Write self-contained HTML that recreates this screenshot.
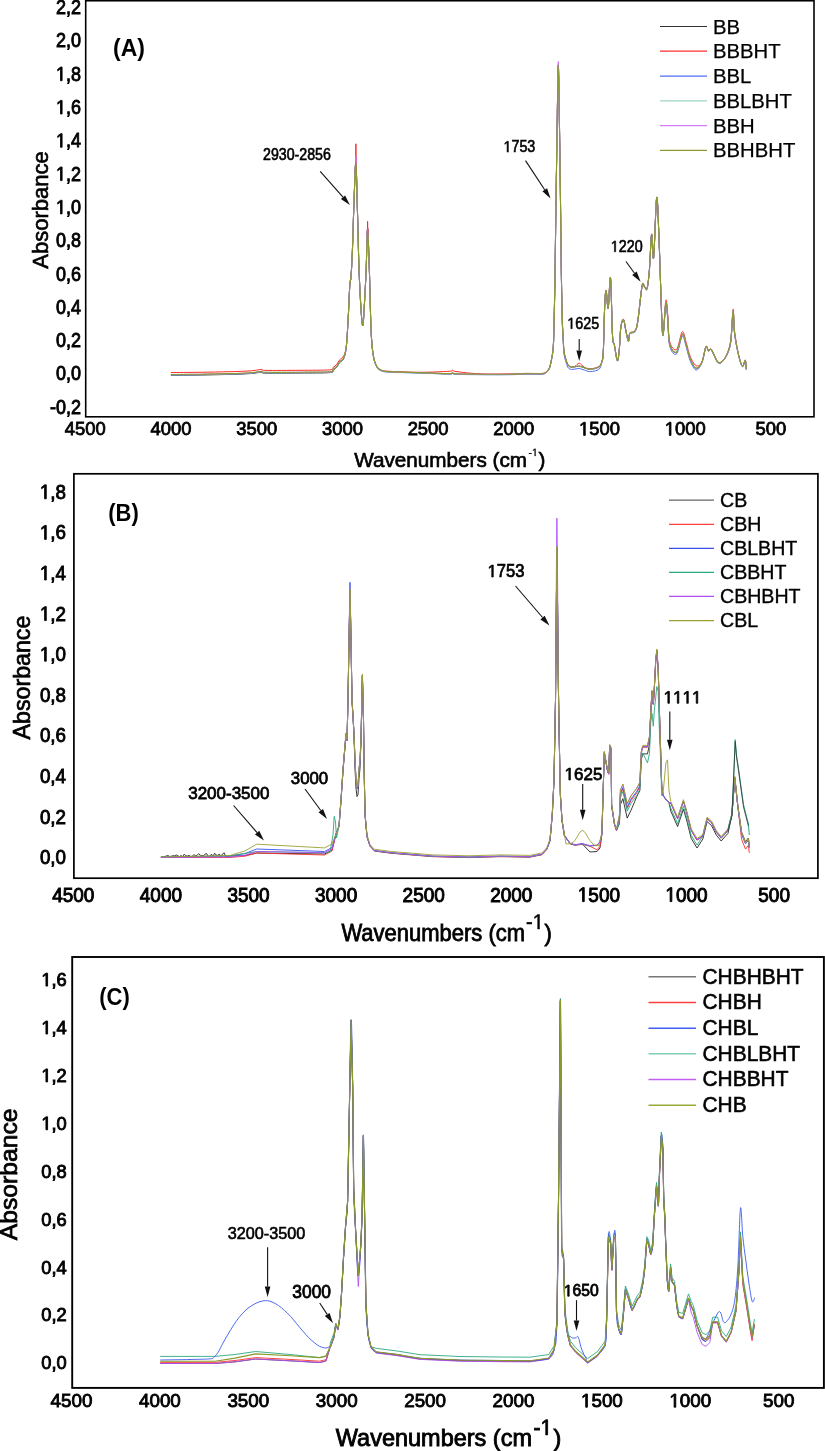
<!DOCTYPE html>
<html><head><meta charset="utf-8"><style>
html,body{margin:0;padding:0;background:#fff;}
svg{display:block;font-family:"Liberation Sans", sans-serif;}
text{fill:#000;}
svg{will-change:transform;}
</style></head><body>
<svg width="825" height="1451" viewBox="0 0 825 1451">
<rect width="825" height="1451" fill="#fff"/>
<rect x="85.7" y="0.75" width="728.3" height="416.05" fill="none" stroke="#000" stroke-width="1.6"/>
<g transform="translate(81.0,413.7) scale(1,1.1)"><text x="0" y="0" font-size="18" text-anchor="end" font-weight="normal"  stroke="#000" stroke-width="0.8">-0,2</text></g>
<g transform="translate(81.0,380.4) scale(1,1.1)"><text x="0" y="0" font-size="18" text-anchor="end" font-weight="normal"  stroke="#000" stroke-width="0.8">0,0</text></g>
<g transform="translate(81.0,347.1) scale(1,1.1)"><text x="0" y="0" font-size="18" text-anchor="end" font-weight="normal"  stroke="#000" stroke-width="0.8">0,2</text></g>
<g transform="translate(81.0,313.8) scale(1,1.1)"><text x="0" y="0" font-size="18" text-anchor="end" font-weight="normal"  stroke="#000" stroke-width="0.8">0,4</text></g>
<g transform="translate(81.0,280.5) scale(1,1.1)"><text x="0" y="0" font-size="18" text-anchor="end" font-weight="normal"  stroke="#000" stroke-width="0.8">0,6</text></g>
<g transform="translate(81.0,247.2) scale(1,1.1)"><text x="0" y="0" font-size="18" text-anchor="end" font-weight="normal"  stroke="#000" stroke-width="0.8">0,8</text></g>
<g transform="translate(55.98,213.9) scale(1,1.1)"><path transform="translate(0.00,0) scale(0.00879,-0.00879)" d="M515,0 L515,1237 L197,1010 L197,1180 L530,1409 L696,1409 L696,0 Z" fill="#000" stroke="#000" stroke-width="91.0" stroke-linejoin="miter"/><text x="10.01" y="0" font-size="18"  stroke="#000" stroke-width="0.8" style="white-space:pre">,0</text></g>
<g transform="translate(55.98,180.6) scale(1,1.1)"><path transform="translate(0.00,0) scale(0.00879,-0.00879)" d="M515,0 L515,1237 L197,1010 L197,1180 L530,1409 L696,1409 L696,0 Z" fill="#000" stroke="#000" stroke-width="91.0" stroke-linejoin="miter"/><text x="10.01" y="0" font-size="18"  stroke="#000" stroke-width="0.8" style="white-space:pre">,2</text></g>
<g transform="translate(55.98,147.3) scale(1,1.1)"><path transform="translate(0.00,0) scale(0.00879,-0.00879)" d="M515,0 L515,1237 L197,1010 L197,1180 L530,1409 L696,1409 L696,0 Z" fill="#000" stroke="#000" stroke-width="91.0" stroke-linejoin="miter"/><text x="10.01" y="0" font-size="18"  stroke="#000" stroke-width="0.8" style="white-space:pre">,4</text></g>
<g transform="translate(55.98,114.0) scale(1,1.1)"><path transform="translate(0.00,0) scale(0.00879,-0.00879)" d="M515,0 L515,1237 L197,1010 L197,1180 L530,1409 L696,1409 L696,0 Z" fill="#000" stroke="#000" stroke-width="91.0" stroke-linejoin="miter"/><text x="10.01" y="0" font-size="18"  stroke="#000" stroke-width="0.8" style="white-space:pre">,6</text></g>
<g transform="translate(55.98,80.7) scale(1,1.1)"><path transform="translate(0.00,0) scale(0.00879,-0.00879)" d="M515,0 L515,1237 L197,1010 L197,1180 L530,1409 L696,1409 L696,0 Z" fill="#000" stroke="#000" stroke-width="91.0" stroke-linejoin="miter"/><text x="10.01" y="0" font-size="18"  stroke="#000" stroke-width="0.8" style="white-space:pre">,8</text></g>
<g transform="translate(81.0,47.4) scale(1,1.1)"><text x="0" y="0" font-size="18" text-anchor="end" font-weight="normal"  stroke="#000" stroke-width="0.8">2,0</text></g>
<g transform="translate(81.0,14.1) scale(1,1.1)"><text x="0" y="0" font-size="18" text-anchor="end" font-weight="normal"  stroke="#000" stroke-width="0.8">2,2</text></g>
<g transform="translate(85.3,435.4) scale(1,1.04)"><text x="0" y="0" font-size="18.4" text-anchor="middle" font-weight="normal"  stroke="#000" stroke-width="0.8">4500</text></g>
<g transform="translate(171.0,435.4) scale(1,1.04)"><text x="0" y="0" font-size="18.4" text-anchor="middle" font-weight="normal"  stroke="#000" stroke-width="0.8">4000</text></g>
<g transform="translate(256.7,435.4) scale(1,1.04)"><text x="0" y="0" font-size="18.4" text-anchor="middle" font-weight="normal"  stroke="#000" stroke-width="0.8">3500</text></g>
<g transform="translate(342.4,435.4) scale(1,1.04)"><text x="0" y="0" font-size="18.4" text-anchor="middle" font-weight="normal"  stroke="#000" stroke-width="0.8">3000</text></g>
<g transform="translate(428.1,435.4) scale(1,1.04)"><text x="0" y="0" font-size="18.4" text-anchor="middle" font-weight="normal"  stroke="#000" stroke-width="0.8">2500</text></g>
<g transform="translate(513.8,435.4) scale(1,1.04)"><text x="0" y="0" font-size="18.4" text-anchor="middle" font-weight="normal"  stroke="#000" stroke-width="0.8">2000</text></g>
<g transform="translate(579.03,435.4) scale(1,1.04)"><path transform="translate(0.00,0) scale(0.00898,-0.00898)" d="M515,0 L515,1237 L197,1010 L197,1180 L530,1409 L696,1409 L696,0 Z" fill="#000" stroke="#000" stroke-width="89.0" stroke-linejoin="miter"/><text x="10.23" y="0" font-size="18.4"  stroke="#000" stroke-width="0.8" style="white-space:pre">500</text></g>
<g transform="translate(664.73,435.4) scale(1,1.04)"><path transform="translate(0.00,0) scale(0.00898,-0.00898)" d="M515,0 L515,1237 L197,1010 L197,1180 L530,1409 L696,1409 L696,0 Z" fill="#000" stroke="#000" stroke-width="89.0" stroke-linejoin="miter"/><text x="10.23" y="0" font-size="18.4"  stroke="#000" stroke-width="0.8" style="white-space:pre">000</text></g>
<g transform="translate(770.9,435.4) scale(1,1.04)"><text x="0" y="0" font-size="18.4" text-anchor="middle" font-weight="normal"  stroke="#000" stroke-width="0.8">500</text></g>
<g transform="translate(48,268.7) rotate(-90)"><text x="0" y="0" font-size="22" stroke="#000" stroke-width="0.65">Absorbance</text></g>
<text x="354.2" y="466.7" font-size="20.7" text-anchor="start" font-weight="normal"  stroke="#000" stroke-width="0.65">Wavenumbers (cm</text>
<g transform="translate(528.50,456.0) scale(1,1.0)"><text x="0.00" y="0" font-size="10.5"  stroke="#000" stroke-width="0.3" style="white-space:pre">-</text><path transform="translate(3.50,0) scale(0.00513,-0.00513)" d="M515,0 L515,1237 L197,1010 L197,1180 L530,1409 L696,1409 L696,0 Z" fill="#000" stroke="#000" stroke-width="58.5" stroke-linejoin="miter"/></g>
<text x="538.5" y="466.7" font-size="20.7" text-anchor="start" font-weight="normal"  stroke="#000" stroke-width="0.65">)</text>
<g transform="translate(113.0,55.8) scale(1,1.05)"><text x="0" y="0" font-size="23" text-anchor="start" font-weight="bold" >(A)</text></g>
<line x1="660" y1="26.5" x2="707" y2="26.5" stroke="#333333" stroke-width="1.2"/>
<text x="713.0" y="33.5" font-size="20.3" text-anchor="start" font-weight="normal"  stroke="#000" stroke-width="0.25">BB</text>
<line x1="660" y1="51.1" x2="707" y2="51.1" stroke="#ff3030" stroke-width="1.2"/>
<text x="713.0" y="58.1" font-size="20.3" text-anchor="start" font-weight="normal"  stroke="#000" stroke-width="0.25">BBBHT</text>
<line x1="660" y1="76.2" x2="707" y2="76.2" stroke="#4d6ef5" stroke-width="1.2"/>
<text x="713.0" y="83.2" font-size="20.3" text-anchor="start" font-weight="normal"  stroke="#000" stroke-width="0.25">BBL</text>
<line x1="660" y1="100.9" x2="707" y2="100.9" stroke="#9fd6c6" stroke-width="1.2"/>
<text x="713.0" y="107.9" font-size="20.3" text-anchor="start" font-weight="normal"  stroke="#000" stroke-width="0.25">BBLBHT</text>
<line x1="660" y1="125.6" x2="707" y2="125.6" stroke="#d27cf7" stroke-width="1.2"/>
<text x="713.0" y="132.6" font-size="20.3" text-anchor="start" font-weight="normal"  stroke="#000" stroke-width="0.25">BBH</text>
<line x1="660" y1="150.3" x2="707" y2="150.3" stroke="#8e9a2e" stroke-width="1.2"/>
<text x="713.0" y="157.3" font-size="20.3" text-anchor="start" font-weight="normal"  stroke="#000" stroke-width="0.25">BBHBHT</text>
<g transform="translate(263.0,159.8) scale(1,1.1)"><text x="0" y="0" font-size="14.2" text-anchor="start" font-weight="normal"  stroke="#000" stroke-width="0.55">2930-2856</text></g>
<line x1="320.2" y1="171.3" x2="343.0" y2="197.2" stroke="#111" stroke-width="1.1"/>
<polygon points="349.9,205.1 340.9,199.1 345.1,195.4" fill="#111"/>
<g transform="translate(503.50,152.1) scale(1,1.1)"><path transform="translate(0.00,0) scale(0.00698,-0.00698)" d="M515,0 L515,1237 L197,1010 L197,1180 L530,1409 L696,1409 L696,0 Z" fill="#000" stroke="#000" stroke-width="78.8" stroke-linejoin="miter"/><text x="7.95" y="0" font-size="14.3"  stroke="#000" stroke-width="0.55" style="white-space:pre">753</text></g>
<line x1="525.5" y1="160.6" x2="544.7" y2="189.7" stroke="#111" stroke-width="1.1"/>
<polygon points="550.5,198.5 542.4,191.3 547.1,188.2" fill="#111"/>
<g transform="translate(567.30,328.7) scale(1,1.1)"><path transform="translate(0.00,0) scale(0.00698,-0.00698)" d="M515,0 L515,1237 L197,1010 L197,1180 L530,1409 L696,1409 L696,0 Z" fill="#000" stroke="#000" stroke-width="78.8" stroke-linejoin="miter"/><text x="7.95" y="0" font-size="14.3"  stroke="#000" stroke-width="0.55" style="white-space:pre">625</text></g>
<line x1="579.2" y1="339.0" x2="579.2" y2="350.6" stroke="#111" stroke-width="1.1"/>
<polygon points="579.2,361.1 576.4,350.6 582.0,350.6" fill="#111"/>
<g transform="translate(610.80,251.8) scale(1,1.1)"><path transform="translate(0.00,0) scale(0.00698,-0.00698)" d="M515,0 L515,1237 L197,1010 L197,1180 L530,1409 L696,1409 L696,0 Z" fill="#000" stroke="#000" stroke-width="78.8" stroke-linejoin="miter"/><text x="7.95" y="0" font-size="14.3"  stroke="#000" stroke-width="0.55" style="white-space:pre">220</text></g>
<line x1="626.0" y1="261.5" x2="634.5" y2="273.3" stroke="#111" stroke-width="1.1"/>
<polygon points="640.6,281.8 632.2,274.9 636.7,271.6" fill="#111"/>
<path d="M170.9,375.3 C175.8,375.2 190.2,375.1 200.0,375.0 C209.8,374.9 221.7,374.6 230.0,374.4 C238.3,374.2 245.3,373.9 250.0,373.6 C254.7,373.3 256.0,372.9 258.0,372.6 C260.0,372.4 260.5,372.0 261.8,372.1 C263.1,372.2 259.6,373.0 266.0,373.1 C272.4,373.2 289.4,373.1 300.0,373.0 C310.6,372.9 324.2,373.1 329.7,372.6 C335.2,372.2 331.8,371.2 333.0,370.3 C334.2,369.4 335.8,368.2 336.9,367.0 C338.0,365.8 338.2,364.2 339.4,362.8 C340.5,361.4 342.6,361.3 343.8,358.4 C345.0,355.6 345.7,352.1 346.4,345.7 C347.1,339.3 347.5,329.9 348.1,319.9 C348.7,309.8 349.3,292.6 349.8,285.4 C350.3,278.2 350.6,282.6 351.0,276.8 C351.4,271.1 351.9,263.8 352.4,250.9 C352.9,238.0 353.5,213.8 354.1,199.2 C354.7,184.5 355.3,160.1 355.9,163.0 C356.5,165.9 357.0,197.4 357.6,216.4 C358.2,235.4 358.5,258.7 359.3,276.8 C360.1,294.9 361.5,320.7 362.4,325.0 C363.3,329.3 363.9,312.1 364.5,302.6 C365.1,293.1 365.7,280.4 366.2,268.1 C366.7,255.7 367.1,228.5 367.6,228.5 C368.1,228.5 368.7,251.4 369.3,268.1 C369.9,284.8 370.4,314.1 371.0,328.5 C371.6,342.9 372.2,348.0 373.1,354.3 C374.0,360.6 375.2,363.7 376.6,366.4 C378.0,369.1 379.5,369.8 381.7,370.7 C383.9,371.6 383.6,371.4 390.0,371.8 C396.4,372.2 410.2,372.5 420.0,372.8 C429.8,373.1 443.6,373.8 449.0,373.8 C454.4,373.8 451.2,372.8 452.4,372.8 C453.6,372.8 451.4,373.7 456.0,374.0 C460.6,374.3 471.0,374.3 480.0,374.4 C489.0,374.5 502.5,374.5 510.0,374.4 C517.5,374.3 521.7,374.0 525.0,373.9 C528.3,373.8 527.1,373.9 530.0,373.9 C532.9,373.9 539.5,374.2 542.2,373.9 C545.0,373.6 545.3,373.2 546.5,372.2 C547.7,371.2 548.6,370.0 549.5,367.8 C550.4,365.6 551.0,362.2 551.6,359.1 C552.2,355.9 552.7,353.7 553.1,348.9 C553.5,344.1 553.6,342.3 553.9,330.2 C554.2,318.1 554.7,296.2 555.0,276.2 C555.3,256.1 555.5,235.7 555.9,209.9 C556.3,184.1 556.8,145.6 557.2,121.5 C557.6,97.4 557.9,65.2 558.3,65.2 C558.7,65.2 559.0,97.4 559.4,121.5 C559.8,145.6 560.3,184.1 560.6,209.9 C560.9,235.7 561.1,257.8 561.4,276.2 C561.7,294.6 562.0,309.9 562.3,320.2 C562.6,330.5 562.9,332.9 563.2,338.2 C563.5,343.5 563.5,348.1 564.0,351.8 C564.5,355.5 565.5,358.3 566.2,360.6 C566.9,362.9 567.5,364.6 568.4,365.7 C569.2,366.8 570.2,366.9 571.3,367.1 C572.4,367.3 573.7,366.9 575.0,366.8 C576.3,366.7 577.7,366.0 579.3,366.2 C580.9,366.4 582.6,367.3 584.4,367.8 C586.2,368.3 587.8,369.4 590.2,369.3 C592.6,369.2 597.0,368.3 598.9,367.1 C600.8,365.9 601.1,364.6 601.8,362.0 C602.5,359.4 602.8,361.1 603.3,351.8 C603.8,342.5 604.2,316.4 604.7,306.2 C605.2,296.0 605.5,290.4 606.1,290.7 C606.7,291.0 607.5,310.3 608.2,308.2 C608.9,306.1 609.8,273.6 610.5,278.1 C611.2,282.6 611.9,324.2 612.5,335.4 C613.1,346.6 613.6,340.9 614.4,345.1 C615.2,349.3 616.5,359.6 617.3,360.6 C618.1,361.6 618.6,356.4 619.2,350.9 C619.8,345.4 620.1,332.8 620.8,327.6 C621.5,322.4 622.6,319.1 623.5,319.8 C624.4,320.5 625.2,327.9 626.0,331.5 C626.8,335.1 627.8,340.9 628.4,341.2 C629.0,341.5 628.8,335.0 629.9,333.4 C631.0,331.8 633.5,333.4 634.8,331.5 C636.1,329.6 636.5,329.4 637.7,321.8 C638.9,314.2 641.0,291.7 642.1,285.9 C643.2,280.1 643.7,286.4 644.5,286.9 C645.3,287.4 646.2,291.4 647.0,288.8 C647.8,286.2 648.5,280.4 649.3,271.4 C650.1,262.3 650.9,236.8 651.6,234.5 C652.3,232.2 652.8,263.9 653.6,257.8 C654.5,251.7 655.8,200.9 656.7,197.7 C657.6,194.5 658.3,221.9 659.0,238.4 C659.7,254.9 660.4,280.4 661.0,296.6 C661.6,312.8 662.1,334.3 662.9,335.4 C663.7,336.5 665.0,306.2 665.8,303.2 C666.6,300.2 667.1,310.4 667.7,317.2 C668.4,324.0 668.2,338.4 669.7,344.2 C671.2,350.0 674.4,353.8 676.5,352.2 C678.6,350.6 680.7,335.6 682.3,334.4 C683.9,333.2 684.9,341.1 686.2,345.1 C687.5,349.1 688.4,354.7 690.0,358.6 C691.6,362.4 693.9,367.5 695.9,368.2 C697.9,368.9 700.0,366.5 701.7,363.0 C703.4,359.5 704.8,349.0 705.9,347.0 C707.0,345.0 707.6,350.4 708.5,350.9 C709.4,351.4 709.9,348.1 711.4,349.9 C712.9,351.7 715.6,359.4 717.2,361.5 C718.8,363.6 719.5,363.6 721.1,362.5 C722.7,361.4 725.3,358.4 726.9,354.8 C728.5,351.2 729.8,348.5 730.8,341.2 C731.8,333.9 732.5,312.5 733.1,311.2 C733.7,309.9 733.7,326.1 734.6,333.4 C735.5,340.7 737.2,349.3 738.5,354.8 C739.8,360.3 741.3,365.4 742.4,366.4 C743.5,367.4 744.6,360.1 745.3,360.6 C745.9,361.1 746.1,367.9 746.3,369.3" fill="none" stroke="#333333" stroke-width="1.0" stroke-linejoin="round"/>
<path d="M170.9,372.6 C175.8,372.5 190.2,372.4 200.0,372.3 C209.8,372.1 221.7,371.9 230.0,371.7 C238.3,371.5 245.3,371.2 250.0,370.9 C254.7,370.6 256.0,370.1 258.0,369.9 C260.0,369.6 260.5,369.3 261.8,369.4 C263.1,369.5 259.6,370.2 266.0,370.4 C272.4,370.5 289.4,370.4 300.0,370.3 C310.6,370.2 324.2,370.3 329.7,369.9 C335.2,369.4 331.8,368.5 333.0,367.6 C334.2,366.7 335.8,365.5 336.9,364.3 C338.0,363.0 338.2,361.5 339.4,360.1 C340.5,358.7 342.6,358.2 343.8,355.7 C345.0,353.2 345.7,351.2 346.4,345.2 C347.1,339.1 347.5,329.4 348.1,319.4 C348.7,309.3 349.3,292.1 349.8,284.9 C350.3,277.7 350.6,282.1 351.0,276.3 C351.4,270.6 351.9,263.3 352.4,250.4 C352.9,237.5 353.5,213.3 354.1,198.7 C354.7,184.0 355.3,159.6 355.9,162.5 C356.5,165.4 357.0,196.9 357.6,215.9 C358.2,234.9 358.5,258.2 359.3,276.3 C360.1,294.4 361.5,320.2 362.4,324.5 C363.3,328.8 363.9,311.6 364.5,302.1 C365.1,292.6 365.7,279.9 366.2,267.6 C366.7,255.2 367.1,228.0 367.6,228.0 C368.1,228.0 368.7,250.9 369.3,267.6 C369.9,284.3 370.4,313.6 371.0,328.0 C371.6,342.4 372.2,347.5 373.1,353.8 C374.0,360.1 375.2,363.2 376.6,365.9 C378.0,368.6 379.5,369.3 381.7,370.2 C383.9,371.1 383.6,370.9 390.0,371.3 C396.4,371.7 410.2,372.3 420.0,372.3 C429.8,372.3 443.6,371.6 449.0,371.3 C454.4,371.0 451.2,370.3 452.4,370.3 C453.6,370.3 451.4,370.9 456.0,371.5 C460.6,372.1 471.0,373.5 480.0,373.9 C489.0,374.3 502.5,374.0 510.0,373.9 C517.5,373.8 521.7,373.5 525.0,373.4 C528.3,373.3 527.1,373.4 530.0,373.4 C532.9,373.4 539.5,373.7 542.2,373.4 C545.0,373.1 545.3,372.7 546.5,371.7 C547.7,370.7 548.6,369.5 549.5,367.3 C550.4,365.1 551.0,361.8 551.6,358.6 C552.2,355.4 552.7,353.2 553.1,348.4 C553.5,343.6 553.6,341.8 553.9,329.7 C554.2,317.6 554.7,295.8 555.0,275.7 C555.3,255.6 555.5,235.2 555.9,209.4 C556.3,183.6 556.8,145.1 557.2,121.0 C557.6,96.9 557.9,64.7 558.3,64.7 C558.7,64.7 559.0,96.9 559.4,121.0 C559.8,145.1 560.3,183.6 560.6,209.4 C560.9,235.2 561.1,257.3 561.4,275.7 C561.7,294.1 562.0,309.4 562.3,319.7 C562.6,330.0 562.9,332.4 563.2,337.7 C563.5,343.0 563.5,347.6 564.0,351.3 C564.5,355.0 565.5,357.8 566.2,360.1 C566.9,362.4 567.5,364.1 568.4,365.2 C569.2,366.3 570.2,366.4 571.3,366.6 C572.4,366.8 573.7,366.9 575.0,366.3 C576.3,365.7 577.7,363.0 579.3,363.2 C580.9,363.4 582.6,366.4 584.4,367.3 C586.2,368.2 587.8,368.9 590.2,368.8 C592.6,368.7 597.0,367.8 598.9,366.6 C600.8,365.4 601.1,364.1 601.8,361.5 C602.5,358.9 602.8,360.6 603.3,351.3 C603.8,342.0 604.2,315.9 604.7,305.7 C605.2,295.5 605.5,289.9 606.1,290.2 C606.7,290.5 607.5,309.8 608.2,307.7 C608.9,305.6 609.8,273.1 610.5,277.6 C611.2,282.1 611.9,323.7 612.5,334.9 C613.1,346.1 613.6,340.4 614.4,344.6 C615.2,348.8 616.5,359.1 617.3,360.1 C618.1,361.1 618.6,355.9 619.2,350.4 C619.8,344.9 620.1,332.3 620.8,327.1 C621.5,321.9 622.6,318.6 623.5,319.3 C624.4,320.0 625.2,327.4 626.0,331.0 C626.8,334.6 627.8,340.4 628.4,340.7 C629.0,341.0 628.8,334.5 629.9,332.9 C631.0,331.3 633.5,332.9 634.8,331.0 C636.1,329.1 636.5,328.9 637.7,321.3 C638.9,313.7 641.0,291.2 642.1,285.4 C643.2,279.6 643.7,285.9 644.5,286.4 C645.3,286.9 646.2,290.9 647.0,288.3 C647.8,285.7 648.5,279.9 649.3,270.9 C650.1,261.8 650.9,236.3 651.6,234.0 C652.3,231.7 652.8,263.4 653.6,257.3 C654.5,251.2 655.8,200.4 656.7,197.2 C657.6,194.0 658.3,221.4 659.0,237.9 C659.7,254.4 660.4,279.9 661.0,296.1 C661.6,312.3 662.1,334.2 662.9,334.9 C663.7,335.6 665.0,303.9 665.8,300.5 C666.6,297.1 667.1,307.7 667.7,314.5 C668.4,321.3 668.2,335.7 669.7,341.5 C671.2,347.3 674.4,351.1 676.5,349.5 C678.6,347.9 680.7,332.9 682.3,331.7 C683.9,330.5 684.9,338.4 686.2,342.4 C687.5,346.4 688.4,352.0 690.0,355.9 C691.6,359.8 693.9,364.4 695.9,365.5 C697.9,366.6 700.0,365.7 701.7,362.5 C703.4,359.3 704.8,348.5 705.9,346.5 C707.0,344.5 707.6,349.9 708.5,350.4 C709.4,350.9 709.9,347.6 711.4,349.4 C712.9,351.2 715.6,358.9 717.2,361.0 C718.8,363.1 719.5,363.1 721.1,362.0 C722.7,360.9 725.3,358.1 726.9,354.3 C728.5,350.5 729.8,346.7 730.8,339.2 C731.8,331.7 732.5,310.5 733.1,309.2 C733.7,307.9 733.7,323.9 734.6,331.4 C735.5,338.9 737.2,348.6 738.5,354.3 C739.8,360.1 741.3,364.9 742.4,365.9 C743.5,366.9 744.6,359.6 745.3,360.1 C745.9,360.6 746.1,367.4 746.3,368.8" fill="none" stroke="#ff2a2a" stroke-width="1.0" stroke-linejoin="round"/>
<path d="M170.9,375.0 C175.8,374.9 190.2,374.8 200.0,374.7 C209.8,374.6 221.7,374.3 230.0,374.1 C238.3,373.9 245.3,373.6 250.0,373.3 C254.7,373.0 256.0,372.6 258.0,372.3 C260.0,372.1 260.5,371.7 261.8,371.8 C263.1,371.9 259.6,372.7 266.0,372.8 C272.4,372.9 289.4,372.8 300.0,372.7 C310.6,372.6 324.2,372.8 329.7,372.3 C335.2,371.9 331.8,370.9 333.0,370.0 C334.2,369.1 335.8,367.9 336.9,366.7 C338.0,365.4 338.2,363.9 339.4,362.5 C340.5,361.1 342.6,360.9 343.8,358.1 C345.0,355.4 345.7,352.3 346.4,346.0 C347.1,339.7 347.5,330.2 348.1,320.2 C348.7,310.1 349.3,292.9 349.8,285.7 C350.3,278.5 350.6,282.9 351.0,277.1 C351.4,271.4 351.9,264.1 352.4,251.2 C352.9,238.3 353.5,214.2 354.1,199.5 C354.7,184.8 355.3,160.4 355.9,163.3 C356.5,166.2 357.0,197.7 357.6,216.7 C358.2,235.7 358.5,259.0 359.3,277.1 C360.1,295.2 361.5,321.0 362.4,325.3 C363.3,329.6 363.9,312.4 364.5,302.9 C365.1,293.4 365.7,280.8 366.2,268.4 C366.7,256.0 367.1,228.8 367.6,228.8 C368.1,228.8 368.7,251.7 369.3,268.4 C369.9,285.1 370.4,314.4 371.0,328.8 C371.6,343.2 372.2,348.3 373.1,354.6 C374.0,360.9 375.2,364.0 376.6,366.7 C378.0,369.4 379.5,370.1 381.7,371.0 C383.9,371.9 383.6,371.8 390.0,372.1 C396.4,372.5 410.2,372.8 420.0,373.1 C429.8,373.4 443.6,374.1 449.0,374.1 C454.4,374.1 451.2,373.1 452.4,373.1 C453.6,373.1 451.4,374.0 456.0,374.3 C460.6,374.6 471.0,374.6 480.0,374.7 C489.0,374.8 502.5,374.8 510.0,374.7 C517.5,374.6 521.7,374.3 525.0,374.2 C528.3,374.1 527.1,374.2 530.0,374.2 C532.9,374.2 539.5,374.5 542.2,374.2 C545.0,373.9 545.3,373.5 546.5,372.5 C547.7,371.5 548.6,370.3 549.5,368.1 C550.4,365.9 551.0,362.5 551.6,359.4 C552.2,356.2 552.7,354.0 553.1,349.2 C553.5,344.4 553.6,342.6 553.9,330.5 C554.2,318.4 554.7,296.6 555.0,276.5 C555.3,256.4 555.5,236.0 555.9,210.2 C556.3,184.4 556.8,145.9 557.2,121.8 C557.6,97.7 557.9,65.5 558.3,65.5 C558.7,65.5 559.0,97.4 559.4,121.8 C559.8,146.2 560.3,186.1 560.6,212.2 C560.9,238.3 561.1,260.1 561.4,278.5 C561.7,296.9 562.0,312.2 562.3,322.5 C562.6,332.8 562.9,335.2 563.2,340.5 C563.5,345.8 563.5,350.4 564.0,354.1 C564.5,357.8 565.5,360.6 566.2,362.9 C566.9,365.2 567.5,366.9 568.4,368.0 C569.2,369.1 570.2,369.2 571.3,369.4 C572.4,369.6 573.7,369.2 575.0,369.1 C576.3,369.0 577.7,368.3 579.3,368.5 C580.9,368.7 582.6,369.6 584.4,370.1 C586.2,370.6 587.8,371.7 590.2,371.6 C592.6,371.5 597.0,370.9 598.9,369.4 C600.8,367.8 601.1,365.2 601.8,362.3 C602.5,359.4 602.8,361.4 603.3,352.1 C603.8,342.8 604.2,316.7 604.7,306.5 C605.2,296.3 605.5,290.7 606.1,291.0 C606.7,291.3 607.5,310.6 608.2,308.5 C608.9,306.4 609.8,273.9 610.5,278.4 C611.2,282.9 611.9,324.5 612.5,335.7 C613.1,346.9 613.6,341.2 614.4,345.4 C615.2,349.6 616.5,359.9 617.3,360.9 C618.1,361.9 618.6,356.7 619.2,351.2 C619.8,345.7 620.1,333.1 620.8,327.9 C621.5,322.7 622.6,319.5 623.5,320.1 C624.4,320.8 625.2,328.2 626.0,331.8 C626.8,335.4 627.8,341.2 628.4,341.5 C629.0,341.8 628.8,335.3 629.9,333.7 C631.0,332.1 633.5,333.7 634.8,331.8 C636.1,329.9 636.5,329.7 637.7,322.1 C638.9,314.5 641.0,292.0 642.1,286.2 C643.2,280.4 643.7,286.7 644.5,287.2 C645.3,287.7 646.2,291.7 647.0,289.1 C647.8,286.5 648.5,280.8 649.3,271.7 C650.1,262.6 650.9,237.1 651.6,234.8 C652.3,232.5 652.8,264.2 653.6,258.1 C654.5,252.0 655.8,201.2 656.7,198.0 C657.6,194.8 658.3,222.2 659.0,238.7 C659.7,255.2 660.4,280.7 661.0,296.9 C661.6,313.1 662.1,334.3 662.9,335.7 C663.7,337.1 665.0,307.8 665.8,305.0 C666.6,302.2 667.1,312.2 667.7,319.0 C668.4,325.8 668.2,340.2 669.7,346.0 C671.2,351.8 674.4,355.6 676.5,354.0 C678.6,352.4 680.7,337.4 682.3,336.2 C683.9,335.0 684.9,342.9 686.2,346.9 C687.5,350.9 688.4,356.5 690.0,360.4 C691.6,364.2 693.9,369.5 695.9,370.0 C697.9,370.5 700.0,367.1 701.7,363.3 C703.4,359.5 704.8,349.3 705.9,347.3 C707.0,345.3 707.6,350.7 708.5,351.2 C709.4,351.7 709.9,348.4 711.4,350.2 C712.9,352.0 715.6,359.7 717.2,361.8 C718.8,363.9 719.5,363.9 721.1,362.8 C722.7,361.7 725.3,358.7 726.9,355.1 C728.5,351.6 729.8,348.8 730.8,341.5 C731.8,334.2 732.5,312.8 733.1,311.5 C733.7,310.2 733.7,326.4 734.6,333.7 C735.5,341.0 737.2,349.6 738.5,355.1 C739.8,360.6 741.3,365.7 742.4,366.7 C743.5,367.7 744.6,360.4 745.3,360.9 C745.9,361.4 746.1,368.2 746.3,369.6" fill="none" stroke="#4d6ef5" stroke-width="1.0" stroke-linejoin="round"/>
<path d="M170.9,374.8 C175.8,374.8 190.2,374.6 200.0,374.5 C209.8,374.4 221.7,374.1 230.0,373.9 C238.3,373.7 245.3,373.4 250.0,373.1 C254.7,372.8 256.0,372.4 258.0,372.1 C260.0,371.9 260.5,371.5 261.8,371.6 C263.1,371.7 259.6,372.5 266.0,372.6 C272.4,372.8 289.4,372.6 300.0,372.5 C310.6,372.4 324.2,372.6 329.7,372.1 C335.2,371.7 331.8,370.7 333.0,369.8 C334.2,368.9 335.8,367.8 336.9,366.5 C338.0,365.2 338.2,363.7 339.4,362.3 C340.5,360.9 342.6,360.7 343.8,357.9 C345.0,355.2 345.7,352.1 346.4,345.8 C347.1,339.5 347.5,330.1 348.1,320.0 C348.7,309.9 349.3,292.7 349.8,285.5 C350.3,278.3 350.6,282.7 351.0,276.9 C351.4,271.2 351.9,263.9 352.4,251.0 C352.9,238.1 353.5,214.0 354.1,199.3 C354.7,184.7 355.3,160.2 355.9,163.1 C356.5,166.0 357.0,197.5 357.6,216.5 C358.2,235.5 358.5,258.8 359.3,276.9 C360.1,295.0 361.5,320.8 362.4,325.1 C363.3,329.4 363.9,312.2 364.5,302.7 C365.1,293.2 365.7,280.5 366.2,268.2 C366.7,255.8 367.1,228.6 367.6,228.6 C368.1,228.6 368.7,251.5 369.3,268.2 C369.9,284.9 370.4,314.2 371.0,328.6 C371.6,343.0 372.2,348.1 373.1,354.4 C374.0,360.7 375.2,363.8 376.6,366.5 C378.0,369.2 379.5,369.9 381.7,370.8 C383.9,371.7 383.6,371.6 390.0,371.9 C396.4,372.3 410.2,372.6 420.0,372.9 C429.8,373.2 443.6,373.9 449.0,373.9 C454.4,373.9 451.2,372.9 452.4,372.9 C453.6,372.9 451.4,373.8 456.0,374.1 C460.6,374.4 471.0,374.4 480.0,374.5 C489.0,374.6 502.5,374.6 510.0,374.5 C517.5,374.4 521.7,374.1 525.0,374.0 C528.3,373.9 527.1,374.0 530.0,374.0 C532.9,374.0 539.5,374.3 542.2,374.0 C545.0,373.7 545.3,373.3 546.5,372.3 C547.7,371.3 548.6,370.1 549.5,367.9 C550.4,365.7 551.0,362.4 551.6,359.2 C552.2,356.0 552.7,353.8 553.1,349.0 C553.5,344.2 553.6,342.4 553.9,330.3 C554.2,318.2 554.7,296.4 555.0,276.3 C555.3,256.2 555.5,235.8 555.9,210.0 C556.3,184.2 556.8,145.7 557.2,121.6 C557.6,97.5 557.9,65.3 558.3,65.3 C558.7,65.3 559.0,97.5 559.4,121.6 C559.8,145.7 560.3,184.2 560.6,210.0 C560.9,235.8 561.1,257.9 561.4,276.3 C561.7,294.7 562.0,310.0 562.3,320.3 C562.6,330.6 562.9,333.0 563.2,338.3 C563.5,343.6 563.5,348.2 564.0,351.9 C564.5,355.6 565.5,358.4 566.2,360.7 C566.9,363.0 567.5,364.7 568.4,365.8 C569.2,366.9 570.2,367.0 571.3,367.2 C572.4,367.4 573.7,367.1 575.0,366.9 C576.3,366.8 577.7,366.1 579.3,366.3 C580.9,366.5 582.6,367.4 584.4,367.9 C586.2,368.4 587.8,369.5 590.2,369.4 C592.6,369.3 597.0,368.4 598.9,367.2 C600.8,366.0 601.1,364.7 601.8,362.1 C602.5,359.6 602.8,361.2 603.3,351.9 C603.8,342.6 604.2,316.5 604.7,306.3 C605.2,296.1 605.5,290.5 606.1,290.8 C606.7,291.1 607.5,310.4 608.2,308.3 C608.9,306.2 609.8,273.7 610.5,278.2 C611.2,282.7 611.9,324.3 612.5,335.5 C613.1,346.7 613.6,341.0 614.4,345.2 C615.2,349.4 616.5,359.7 617.3,360.7 C618.1,361.7 618.6,356.5 619.2,351.0 C619.8,345.5 620.1,332.9 620.8,327.7 C621.5,322.5 622.6,319.2 623.5,319.9 C624.4,320.6 625.2,328.0 626.0,331.6 C626.8,335.2 627.8,341.0 628.4,341.3 C629.0,341.6 628.8,335.1 629.9,333.5 C631.0,331.9 633.5,333.5 634.8,331.6 C636.1,329.7 636.5,329.5 637.7,321.9 C638.9,314.3 641.0,291.8 642.1,286.0 C643.2,280.2 643.7,286.5 644.5,287.0 C645.3,287.5 646.2,291.5 647.0,288.9 C647.8,286.3 648.5,280.6 649.3,271.5 C650.1,262.4 650.9,236.9 651.6,234.6 C652.3,232.3 652.8,264.0 653.6,257.9 C654.5,251.8 655.8,201.0 656.7,197.8 C657.6,194.6 658.3,222.0 659.0,238.5 C659.7,255.0 660.4,280.5 661.0,296.7 C661.6,312.9 662.1,334.4 662.9,335.5 C663.7,336.6 665.0,306.3 665.8,303.3 C666.6,300.3 667.1,310.5 667.7,317.3 C668.4,324.1 668.2,338.5 669.7,344.3 C671.2,350.1 674.4,353.9 676.5,352.3 C678.6,350.7 680.7,335.7 682.3,334.5 C683.9,333.3 684.9,341.2 686.2,345.2 C687.5,349.2 688.4,354.8 690.0,358.7 C691.6,362.6 693.9,367.6 695.9,368.3 C697.9,369.0 700.0,366.6 701.7,363.1 C703.4,359.6 704.8,349.1 705.9,347.1 C707.0,345.1 707.6,350.5 708.5,351.0 C709.4,351.5 709.9,348.2 711.4,350.0 C712.9,351.8 715.6,359.5 717.2,361.6 C718.8,363.7 719.5,363.7 721.1,362.6 C722.7,361.5 725.3,358.5 726.9,354.9 C728.5,351.4 729.8,348.6 730.8,341.3 C731.8,334.0 732.5,312.6 733.1,311.3 C733.7,310.0 733.7,326.2 734.6,333.5 C735.5,340.8 737.2,349.4 738.5,354.9 C739.8,360.4 741.3,365.5 742.4,366.5 C743.5,367.5 744.6,360.2 745.3,360.7 C745.9,361.2 746.1,368.0 746.3,369.4" fill="none" stroke="#7fcdb6" stroke-width="1.0" stroke-linejoin="round"/>
<path d="M170.9,374.6 C175.8,374.6 190.2,374.4 200.0,374.3 C209.8,374.2 221.7,373.9 230.0,373.7 C238.3,373.5 245.3,373.2 250.0,372.9 C254.7,372.6 256.0,372.2 258.0,371.9 C260.0,371.7 260.5,371.3 261.8,371.4 C263.1,371.5 259.6,372.3 266.0,372.4 C272.4,372.6 289.4,372.4 300.0,372.3 C310.6,372.2 324.2,372.4 329.7,371.9 C335.2,371.5 331.8,370.5 333.0,369.6 C334.2,368.7 335.8,367.6 336.9,366.3 C338.0,365.1 338.2,363.5 339.4,362.1 C340.5,360.7 342.6,360.5 343.8,357.7 C345.0,355.0 345.7,351.9 346.4,345.6 C347.1,339.3 347.5,329.9 348.1,319.8 C348.7,309.8 349.3,292.5 349.8,285.3 C350.3,278.1 350.6,282.5 351.0,276.7 C351.4,271.0 351.9,263.7 352.4,250.8 C352.9,237.9 353.5,213.8 354.1,199.1 C354.7,184.4 355.3,160.0 355.9,162.9 C356.5,165.8 357.0,197.3 357.6,216.3 C358.2,235.3 358.5,258.6 359.3,276.7 C360.1,294.8 361.5,320.6 362.4,324.9 C363.3,329.2 363.9,312.0 364.5,302.5 C365.1,293.0 365.7,280.4 366.2,268.0 C366.7,255.7 367.1,228.4 367.6,228.4 C368.1,228.4 368.7,251.3 369.3,268.0 C369.9,284.7 370.4,314.0 371.0,328.4 C371.6,342.8 372.2,347.9 373.1,354.2 C374.0,360.5 375.2,363.6 376.6,366.3 C378.0,369.0 379.5,369.7 381.7,370.6 C383.9,371.5 383.6,371.4 390.0,371.7 C396.4,372.1 410.2,372.4 420.0,372.7 C429.8,373.0 443.6,373.7 449.0,373.7 C454.4,373.7 451.2,372.7 452.4,372.7 C453.6,372.7 451.4,373.6 456.0,373.9 C460.6,374.2 471.0,374.2 480.0,374.3 C489.0,374.4 502.5,374.4 510.0,374.3 C517.5,374.2 521.7,373.9 525.0,373.8 C528.3,373.7 527.1,373.8 530.0,373.8 C532.9,373.8 539.5,374.1 542.2,373.8 C545.0,373.5 545.3,373.1 546.5,372.1 C547.7,371.1 548.6,369.9 549.5,367.7 C550.4,365.5 551.0,362.1 551.6,359.0 C552.2,355.9 552.7,353.6 553.1,348.8 C553.5,344.0 553.6,342.2 553.9,330.1 C554.2,318.0 554.7,296.2 555.0,276.1 C555.3,256.1 555.5,235.6 555.9,209.8 C556.3,184.0 556.8,145.5 557.2,121.4 C557.6,97.3 557.9,65.1 558.3,65.1 C558.7,65.1 559.0,97.3 559.4,121.4 C559.8,145.5 560.3,184.0 560.6,209.8 C560.9,235.6 561.1,257.7 561.4,276.1 C561.7,294.5 562.0,309.8 562.3,320.1 C562.6,330.4 562.9,332.8 563.2,338.1 C563.5,343.4 563.5,348.0 564.0,351.7 C564.5,355.4 565.5,358.2 566.2,360.5 C566.9,362.8 567.5,364.5 568.4,365.6 C569.2,366.7 570.2,366.8 571.3,367.0 C572.4,367.2 573.7,366.9 575.0,366.7 C576.3,366.6 577.7,365.9 579.3,366.1 C580.9,366.3 582.6,367.2 584.4,367.7 C586.2,368.2 587.8,369.3 590.2,369.2 C592.6,369.1 597.0,368.2 598.9,367.0 C600.8,365.8 601.1,364.5 601.8,361.9 C602.5,359.4 602.8,361.0 603.3,351.7 C603.8,342.4 604.2,316.3 604.7,306.1 C605.2,295.9 605.5,290.3 606.1,290.6 C606.7,290.9 607.5,310.2 608.2,308.1 C608.9,306.0 609.8,273.5 610.5,278.0 C611.2,282.5 611.9,324.1 612.5,335.3 C613.1,346.5 613.6,340.8 614.4,345.0 C615.2,349.2 616.5,359.5 617.3,360.5 C618.1,361.5 618.6,356.3 619.2,350.8 C619.8,345.3 620.1,332.7 620.8,327.5 C621.5,322.3 622.6,319.1 623.5,319.7 C624.4,320.4 625.2,327.8 626.0,331.4 C626.8,335.0 627.8,340.8 628.4,341.1 C629.0,341.4 628.8,334.9 629.9,333.3 C631.0,331.7 633.5,333.3 634.8,331.4 C636.1,329.5 636.5,329.3 637.7,321.7 C638.9,314.1 641.0,291.6 642.1,285.8 C643.2,280.0 643.7,286.3 644.5,286.8 C645.3,287.3 646.2,291.3 647.0,288.7 C647.8,286.1 648.5,280.4 649.3,271.3 C650.1,262.2 650.9,236.7 651.6,234.4 C652.3,232.1 652.8,263.8 653.6,257.7 C654.5,251.6 655.8,200.8 656.7,197.6 C657.6,194.4 658.3,221.8 659.0,238.3 C659.7,254.8 660.4,280.3 661.0,296.5 C661.6,312.7 662.1,334.2 662.9,335.3 C663.7,336.4 665.0,306.1 665.8,303.1 C666.6,300.1 667.1,310.3 667.7,317.1 C668.4,323.9 668.2,338.3 669.7,344.1 C671.2,349.9 674.4,353.7 676.5,352.1 C678.6,350.5 680.7,335.5 682.3,334.3 C683.9,333.1 684.9,341.0 686.2,345.0 C687.5,349.0 688.4,354.6 690.0,358.5 C691.6,362.4 693.9,367.4 695.9,368.1 C697.9,368.8 700.0,366.4 701.7,362.9 C703.4,359.4 704.8,348.9 705.9,346.9 C707.0,344.9 707.6,350.3 708.5,350.8 C709.4,351.3 709.9,348.0 711.4,349.8 C712.9,351.6 715.6,359.3 717.2,361.4 C718.8,363.5 719.5,363.5 721.1,362.4 C722.7,361.3 725.3,358.3 726.9,354.7 C728.5,351.2 729.8,348.4 730.8,341.1 C731.8,333.8 732.5,312.4 733.1,311.1 C733.7,309.8 733.7,326.0 734.6,333.3 C735.5,340.6 737.2,349.2 738.5,354.7 C739.8,360.2 741.3,365.3 742.4,366.3 C743.5,367.3 744.6,360.0 745.3,360.5 C745.9,361.0 746.1,367.8 746.3,369.2" fill="none" stroke="#c86cf5" stroke-width="1.0" stroke-linejoin="round"/>
<polyline points="355.5,170.0 355.9,143.8 356.2,170.0" fill="none" stroke="#ff2a2a" stroke-width="1.0" stroke-linejoin="round" opacity="1"/>
<polyline points="367.4,235.0 367.6,221.4 367.9,235.0" fill="none" stroke="#ff2a2a" stroke-width="1.0" stroke-linejoin="round" opacity="1"/>
<polyline points="558.1,75.0 558.3,61.5 558.5,75.0" fill="none" stroke="#c86cf5" stroke-width="1.0" stroke-linejoin="round" opacity="1"/>
<polyline points="355.6,168.0 355.9,155.7 356.1,168.0" fill="none" stroke="#c86cf5" stroke-width="1.0" stroke-linejoin="round" opacity="1"/>
<path d="M170.9,374.5 C175.8,374.4 190.2,374.3 200.0,374.2 C209.8,374.1 221.7,373.8 230.0,373.6 C238.3,373.4 245.3,373.1 250.0,372.8 C254.7,372.5 256.0,372.1 258.0,371.8 C260.0,371.6 260.5,371.2 261.8,371.3 C263.1,371.4 259.6,372.2 266.0,372.3 C272.4,372.4 289.4,372.3 300.0,372.2 C310.6,372.1 324.2,372.2 329.7,371.8 C335.2,371.4 331.8,370.4 333.0,369.5 C334.2,368.6 335.8,367.4 336.9,366.2 C338.0,364.9 338.2,363.4 339.4,362.0 C340.5,360.6 342.6,360.4 343.8,357.6 C345.0,354.9 345.7,351.8 346.4,345.5 C347.1,339.2 347.5,329.8 348.1,319.7 C348.7,309.6 349.3,292.4 349.8,285.2 C350.3,278.0 350.6,282.4 351.0,276.6 C351.4,270.9 351.9,263.6 352.4,250.7 C352.9,237.8 353.5,213.7 354.1,199.0 C354.7,184.3 355.3,159.9 355.9,162.8 C356.5,165.7 357.0,197.2 357.6,216.2 C358.2,235.2 358.5,258.5 359.3,276.6 C360.1,294.7 361.5,320.5 362.4,324.8 C363.3,329.1 363.9,311.9 364.5,302.4 C365.1,292.9 365.7,280.2 366.2,267.9 C366.7,255.5 367.1,228.3 367.6,228.3 C368.1,228.3 368.7,251.2 369.3,267.9 C369.9,284.6 370.4,313.9 371.0,328.3 C371.6,342.7 372.2,347.8 373.1,354.1 C374.0,360.4 375.2,363.5 376.6,366.2 C378.0,368.9 379.5,369.6 381.7,370.5 C383.9,371.4 383.6,371.2 390.0,371.6 C396.4,372.0 410.2,372.3 420.0,372.6 C429.8,372.9 443.6,373.6 449.0,373.6 C454.4,373.6 451.2,372.6 452.4,372.6 C453.6,372.6 451.4,373.5 456.0,373.8 C460.6,374.1 471.0,374.1 480.0,374.2 C489.0,374.3 502.5,374.3 510.0,374.2 C517.5,374.1 521.7,373.8 525.0,373.7 C528.3,373.6 527.1,373.7 530.0,373.7 C532.9,373.7 539.5,374.0 542.2,373.7 C545.0,373.4 545.3,373.0 546.5,372.0 C547.7,371.0 548.6,369.8 549.5,367.6 C550.4,365.4 551.0,362.0 551.6,358.9 C552.2,355.8 552.7,353.5 553.1,348.7 C553.5,343.9 553.6,342.1 553.9,330.0 C554.2,317.9 554.7,296.1 555.0,276.0 C555.3,255.9 555.5,235.5 555.9,209.7 C556.3,183.9 556.8,145.4 557.2,121.3 C557.6,97.2 557.9,65.0 558.3,65.0 C558.7,65.0 559.0,97.2 559.4,121.3 C559.8,145.4 560.3,183.9 560.6,209.7 C560.9,235.5 561.1,257.6 561.4,276.0 C561.7,294.4 562.0,309.7 562.3,320.0 C562.6,330.3 562.9,332.7 563.2,338.0 C563.5,343.3 563.5,347.9 564.0,351.6 C564.5,355.3 565.5,358.1 566.2,360.4 C566.9,362.7 567.5,364.4 568.4,365.5 C569.2,366.6 570.2,366.7 571.3,366.9 C572.4,367.1 573.7,366.8 575.0,366.6 C576.3,366.5 577.7,365.8 579.3,366.0 C580.9,366.2 582.6,367.1 584.4,367.6 C586.2,368.1 587.8,369.2 590.2,369.1 C592.6,369.0 597.0,368.1 598.9,366.9 C600.8,365.7 601.1,364.4 601.8,361.8 C602.5,359.2 602.8,360.9 603.3,351.6 C603.8,342.3 604.2,316.2 604.7,306.0 C605.2,295.8 605.5,290.2 606.1,290.5 C606.7,290.8 607.5,310.1 608.2,308.0 C608.9,305.9 609.8,273.4 610.5,277.9 C611.2,282.4 611.9,324.0 612.5,335.2 C613.1,346.4 613.6,340.7 614.4,344.9 C615.2,349.1 616.5,359.4 617.3,360.4 C618.1,361.4 618.6,356.2 619.2,350.7 C619.8,345.2 620.1,332.6 620.8,327.4 C621.5,322.2 622.6,319.0 623.5,319.6 C624.4,320.2 625.2,327.7 626.0,331.3 C626.8,334.9 627.8,340.7 628.4,341.0 C629.0,341.3 628.8,334.8 629.9,333.2 C631.0,331.6 633.5,333.2 634.8,331.3 C636.1,329.4 636.5,329.2 637.7,321.6 C638.9,314.0 641.0,291.5 642.1,285.7 C643.2,279.9 643.7,286.2 644.5,286.7 C645.3,287.2 646.2,291.2 647.0,288.6 C647.8,286.0 648.5,280.2 649.3,271.2 C650.1,262.1 650.9,236.6 651.6,234.3 C652.3,232.0 652.8,263.7 653.6,257.6 C654.5,251.5 655.8,200.7 656.7,197.5 C657.6,194.3 658.3,221.7 659.0,238.2 C659.7,254.7 660.4,280.2 661.0,296.4 C661.6,312.6 662.1,334.1 662.9,335.2 C663.7,336.3 665.0,306.0 665.8,303.0 C666.6,300.0 667.1,310.2 667.7,317.0 C668.4,323.8 668.2,338.2 669.7,344.0 C671.2,349.8 674.4,353.6 676.5,352.0 C678.6,350.4 680.7,335.4 682.3,334.2 C683.9,333.0 684.9,340.9 686.2,344.9 C687.5,348.9 688.4,354.5 690.0,358.4 C691.6,362.2 693.9,367.3 695.9,368.0 C697.9,368.7 700.0,366.3 701.7,362.8 C703.4,359.3 704.8,348.8 705.9,346.8 C707.0,344.8 707.6,350.2 708.5,350.7 C709.4,351.2 709.9,347.9 711.4,349.7 C712.9,351.5 715.6,359.2 717.2,361.3 C718.8,363.4 719.5,363.4 721.1,362.3 C722.7,361.2 725.3,358.2 726.9,354.6 C728.5,351.1 729.8,348.3 730.8,341.0 C731.8,333.7 732.5,312.3 733.1,311.0 C733.7,309.7 733.7,325.9 734.6,333.2 C735.5,340.5 737.2,349.1 738.5,354.6 C739.8,360.1 741.3,365.2 742.4,366.2 C743.5,367.2 744.6,359.9 745.3,360.4 C745.9,360.9 746.1,367.7 746.3,369.1" fill="none" stroke="#8c9c2c" stroke-width="1.1" stroke-linejoin="round"/>
<rect x="73.9" y="473.8" width="744.0" height="404.40000000000003" fill="none" stroke="#000" stroke-width="1.7"/>
<g transform="translate(66.0,864.2) scale(1,1.08)"><text x="0" y="0" font-size="18.8" text-anchor="end" font-weight="normal"  stroke="#000" stroke-width="0.85">0,0</text></g>
<g transform="translate(66.0,823.6) scale(1,1.08)"><text x="0" y="0" font-size="18.8" text-anchor="end" font-weight="normal"  stroke="#000" stroke-width="0.85">0,2</text></g>
<g transform="translate(66.0,783.0) scale(1,1.08)"><text x="0" y="0" font-size="18.8" text-anchor="end" font-weight="normal"  stroke="#000" stroke-width="0.85">0,4</text></g>
<g transform="translate(66.0,742.4) scale(1,1.08)"><text x="0" y="0" font-size="18.8" text-anchor="end" font-weight="normal"  stroke="#000" stroke-width="0.85">0,6</text></g>
<g transform="translate(66.0,701.8) scale(1,1.08)"><text x="0" y="0" font-size="18.8" text-anchor="end" font-weight="normal"  stroke="#000" stroke-width="0.85">0,8</text></g>
<g transform="translate(39.87,661.2) scale(1,1.08)"><path transform="translate(0.00,0) scale(0.00918,-0.00918)" d="M515,0 L515,1237 L197,1010 L197,1180 L530,1409 L696,1409 L696,0 Z" fill="#000" stroke="#000" stroke-width="92.6" stroke-linejoin="miter"/><text x="10.46" y="0" font-size="18.8"  stroke="#000" stroke-width="0.85" style="white-space:pre">,0</text></g>
<g transform="translate(39.87,620.6) scale(1,1.08)"><path transform="translate(0.00,0) scale(0.00918,-0.00918)" d="M515,0 L515,1237 L197,1010 L197,1180 L530,1409 L696,1409 L696,0 Z" fill="#000" stroke="#000" stroke-width="92.6" stroke-linejoin="miter"/><text x="10.46" y="0" font-size="18.8"  stroke="#000" stroke-width="0.85" style="white-space:pre">,2</text></g>
<g transform="translate(39.87,580.0) scale(1,1.08)"><path transform="translate(0.00,0) scale(0.00918,-0.00918)" d="M515,0 L515,1237 L197,1010 L197,1180 L530,1409 L696,1409 L696,0 Z" fill="#000" stroke="#000" stroke-width="92.6" stroke-linejoin="miter"/><text x="10.46" y="0" font-size="18.8"  stroke="#000" stroke-width="0.85" style="white-space:pre">,4</text></g>
<g transform="translate(39.87,539.4) scale(1,1.08)"><path transform="translate(0.00,0) scale(0.00918,-0.00918)" d="M515,0 L515,1237 L197,1010 L197,1180 L530,1409 L696,1409 L696,0 Z" fill="#000" stroke="#000" stroke-width="92.6" stroke-linejoin="miter"/><text x="10.46" y="0" font-size="18.8"  stroke="#000" stroke-width="0.85" style="white-space:pre">,6</text></g>
<g transform="translate(39.87,498.8) scale(1,1.08)"><path transform="translate(0.00,0) scale(0.00918,-0.00918)" d="M515,0 L515,1237 L197,1010 L197,1180 L530,1409 L696,1409 L696,0 Z" fill="#000" stroke="#000" stroke-width="92.6" stroke-linejoin="miter"/><text x="10.46" y="0" font-size="18.8"  stroke="#000" stroke-width="0.85" style="white-space:pre">,8</text></g>
<g transform="translate(73.3,901.6) scale(1,1.07)"><text x="0" y="0" font-size="19.0" text-anchor="middle" font-weight="normal"  stroke="#000" stroke-width="0.9">4500</text></g>
<g transform="translate(160.9,901.6) scale(1,1.07)"><text x="0" y="0" font-size="19.0" text-anchor="middle" font-weight="normal"  stroke="#000" stroke-width="0.9">4000</text></g>
<g transform="translate(248.5,901.6) scale(1,1.07)"><text x="0" y="0" font-size="19.0" text-anchor="middle" font-weight="normal"  stroke="#000" stroke-width="0.9">3500</text></g>
<g transform="translate(336.1,901.6) scale(1,1.07)"><text x="0" y="0" font-size="19.0" text-anchor="middle" font-weight="normal"  stroke="#000" stroke-width="0.9">3000</text></g>
<g transform="translate(423.7,901.6) scale(1,1.07)"><text x="0" y="0" font-size="19.0" text-anchor="middle" font-weight="normal"  stroke="#000" stroke-width="0.9">2500</text></g>
<g transform="translate(511.3,901.6) scale(1,1.07)"><text x="0" y="0" font-size="19.0" text-anchor="middle" font-weight="normal"  stroke="#000" stroke-width="0.9">2000</text></g>
<g transform="translate(577.77,901.6) scale(1,1.07)"><path transform="translate(0.00,0) scale(0.00928,-0.00928)" d="M515,0 L515,1237 L197,1010 L197,1180 L530,1409 L696,1409 L696,0 Z" fill="#000" stroke="#000" stroke-width="97.0" stroke-linejoin="miter"/><text x="10.57" y="0" font-size="19.0"  stroke="#000" stroke-width="0.9" style="white-space:pre">500</text></g>
<g transform="translate(665.37,901.6) scale(1,1.07)"><path transform="translate(0.00,0) scale(0.00928,-0.00928)" d="M515,0 L515,1237 L197,1010 L197,1180 L530,1409 L696,1409 L696,0 Z" fill="#000" stroke="#000" stroke-width="97.0" stroke-linejoin="miter"/><text x="10.57" y="0" font-size="19.0"  stroke="#000" stroke-width="0.9" style="white-space:pre">000</text></g>
<g transform="translate(774.1,901.6) scale(1,1.07)"><text x="0" y="0" font-size="19.0" text-anchor="middle" font-weight="normal"  stroke="#000" stroke-width="0.9">500</text></g>
<g transform="translate(29.8,739.4) rotate(-90)"><text x="0" y="0" font-size="23.2" stroke="#000" stroke-width="0.7">Absorbance</text></g>
<g transform="translate(341.4,941.0) scale(1,1.08)"><text x="0" y="0" font-size="22.0" text-anchor="start" font-weight="normal"  stroke="#000" stroke-width="0.75">Wavenumbers (cm</text></g>
<g transform="translate(526.00,929.0) scale(1,1.06)"><text x="0.00" y="0" font-size="20.0"  stroke="#000" stroke-width="0.5" style="white-space:pre">-</text><path transform="translate(6.66,0) scale(0.00977,-0.00977)" d="M515,0 L515,1237 L197,1010 L197,1180 L530,1409 L696,1409 L696,0 Z" fill="#000" stroke="#000" stroke-width="51.2" stroke-linejoin="miter"/></g>
<g transform="translate(544.6,941.0) scale(1,1.08)"><text x="0" y="0" font-size="22.0" text-anchor="start" font-weight="normal"  stroke="#000" stroke-width="0.75">)</text></g>
<g transform="translate(108.3,521.0) scale(1,1.08)"><text x="0" y="0" font-size="22" text-anchor="start" font-weight="bold" >(B)</text></g>
<line x1="669" y1="500.2" x2="714" y2="500.2" stroke="#666666" stroke-width="1.2"/>
<g transform="translate(720.0,506.6) scale(1,1.03)"><text x="0" y="0" font-size="19.6" text-anchor="start" font-weight="normal"  stroke="#000" stroke-width="0.35">CB</text></g>
<line x1="669" y1="524.4" x2="714" y2="524.4" stroke="#ff4040" stroke-width="1.2"/>
<g transform="translate(720.0,530.8) scale(1,1.03)"><text x="0" y="0" font-size="19.6" text-anchor="start" font-weight="normal"  stroke="#000" stroke-width="0.35">CBH</text></g>
<line x1="669" y1="548.4" x2="714" y2="548.4" stroke="#3a4ee8" stroke-width="1.2"/>
<g transform="translate(720.0,554.8) scale(1,1.03)"><text x="0" y="0" font-size="19.6" text-anchor="start" font-weight="normal"  stroke="#000" stroke-width="0.35">CBLBHT</text></g>
<line x1="669" y1="572.4" x2="714" y2="572.4" stroke="#2aa882" stroke-width="1.2"/>
<g transform="translate(720.0,578.8) scale(1,1.03)"><text x="0" y="0" font-size="19.6" text-anchor="start" font-weight="normal"  stroke="#000" stroke-width="0.35">CBBHT</text></g>
<line x1="669" y1="596.4" x2="714" y2="596.4" stroke="#b050f5" stroke-width="1.2"/>
<g transform="translate(720.0,602.8) scale(1,1.03)"><text x="0" y="0" font-size="19.6" text-anchor="start" font-weight="normal"  stroke="#000" stroke-width="0.35">CBHBHT</text></g>
<line x1="669" y1="620.6" x2="714" y2="620.6" stroke="#9aa030" stroke-width="1.2"/>
<g transform="translate(720.0,627.0) scale(1,1.03)"><text x="0" y="0" font-size="19.6" text-anchor="start" font-weight="normal"  stroke="#000" stroke-width="0.35">CBL</text></g>
<g transform="translate(188.2,799.4) scale(1,1.02)"><text x="0" y="0" font-size="17.0" text-anchor="start" font-weight="normal"  stroke="#000" stroke-width="0.75">3200-3500</text></g>
<line x1="233.6" y1="805.5" x2="257.1" y2="832.7" stroke="#111" stroke-width="1.1"/>
<polygon points="264.0,840.6 255.0,834.5 259.2,830.8" fill="#111"/>
<g transform="translate(290.8,784.4) scale(1,1.02)"><text x="0" y="0" font-size="16.8" text-anchor="start" font-weight="normal"  stroke="#000" stroke-width="0.75">3000</text></g>
<line x1="305.0" y1="789.0" x2="320.8" y2="810.5" stroke="#111" stroke-width="1.1"/>
<polygon points="327.0,819.0 318.5,812.2 323.0,808.9" fill="#111"/>
<g transform="translate(487.60,577.0) scale(1,1.05)"><path transform="translate(0.00,0) scale(0.00811,-0.00811)" d="M515,0 L515,1237 L197,1010 L197,1180 L530,1409 L696,1409 L696,0 Z" fill="#000" stroke="#000" stroke-width="86.4" stroke-linejoin="miter"/><text x="9.23" y="0" font-size="16.6"  stroke="#000" stroke-width="0.7" style="white-space:pre">753</text></g>
<line x1="515.5" y1="586.0" x2="542.6" y2="617.5" stroke="#111" stroke-width="1.1"/>
<polygon points="549.4,625.5 540.4,619.4 544.7,615.7" fill="#111"/>
<g transform="translate(564.60,780.0) scale(1,1.02)"><path transform="translate(0.00,0) scale(0.00830,-0.00830)" d="M515,0 L515,1237 L197,1010 L197,1180 L530,1409 L696,1409 L696,0 Z" fill="#000" stroke="#000" stroke-width="90.4" stroke-linejoin="miter"/><text x="9.45" y="0" font-size="17.0"  stroke="#000" stroke-width="0.75" style="white-space:pre">625</text></g>
<line x1="582.7" y1="784.0" x2="582.7" y2="809.8" stroke="#111" stroke-width="1.1"/>
<polygon points="582.7,820.3 579.9,809.8 585.5,809.8" fill="#111"/>
<g transform="translate(663.60,703.3) scale(1,1.02)"><path transform="translate(0.00,0) scale(0.00830,-0.00830)" d="M515,0 L515,1237 L197,1010 L197,1180 L530,1409 L696,1409 L696,0 Z" fill="#000" stroke="#000" stroke-width="90.4" stroke-linejoin="miter"/><path transform="translate(9.45,0) scale(0.00830,-0.00830)" d="M515,0 L515,1237 L197,1010 L197,1180 L530,1409 L696,1409 L696,0 Z" fill="#000" stroke="#000" stroke-width="90.4" stroke-linejoin="miter"/><path transform="translate(18.91,0) scale(0.00830,-0.00830)" d="M515,0 L515,1237 L197,1010 L197,1180 L530,1409 L696,1409 L696,0 Z" fill="#000" stroke="#000" stroke-width="90.4" stroke-linejoin="miter"/><path transform="translate(28.36,0) scale(0.00830,-0.00830)" d="M515,0 L515,1237 L197,1010 L197,1180 L530,1409 L696,1409 L696,0 Z" fill="#000" stroke="#000" stroke-width="90.4" stroke-linejoin="miter"/></g>
<line x1="669.8" y1="711.5" x2="669.8" y2="739.7" stroke="#111" stroke-width="1.1"/>
<polygon points="669.8,750.2 667.0,739.7 672.6,739.7" fill="#111"/>
<polyline points="160.9,857.0 165.0,856.5 166.6,855.8 168.2,855.7 169.8,856.5 171.4,856.2 173.0,855.7 174.6,855.9 176.2,855.0 177.8,855.6 179.4,856.8 181.0,855.5 182.6,856.8 184.2,854.2 185.8,855.8 187.4,856.1 189.0,855.4 190.6,856.4 192.2,856.4 193.8,854.6 195.4,855.7 197.0,855.3 198.6,853.7 200.2,855.2 201.8,855.6 203.4,855.6 205.0,854.3 206.6,853.5 208.2,856.4 209.8,856.4 211.4,854.2 213.0,856.4 214.6,853.2 216.2,855.0 217.8,855.4 219.4,854.0 221.0,856.8 222.6,853.9 224.2,852.9 225.8,856.8 227.4,856.3 230.0,856.0 245.0,855.5 256.7,853.0 290.0,853.5 324.5,854.0 332.0,850.0 336.0,834.0 339.0,826.0 339.0,826.5 341.0,800.5 343.0,770.5 345.0,746.5 346.0,734.5 347.0,740.5 348.0,700.5 349.0,640.5 350.0,590.5 351.0,640.5 352.0,700.5 353.0,716.5 354.0,734.5 355.0,768.5 356.0,788.5 357.0,796.5 358.0,794.5 359.0,778.5 360.0,768.5 361.0,740.5 362.4,675.5 363.5,720.5 364.0,760.5 365.0,814.5 367.0,836.5 370.0,846.0 374.5,850.8 391.5,853.0 432.7,856.4 469.0,857.3 500.6,856.4 529.7,856.9 541.8,854.5 546.9,849.1 550.0,840.5 552.3,814.1 554.0,780.5 555.5,700.5 556.4,600.5 556.9,547.5 557.5,600.5 558.3,680.5 559.0,728.0 560.4,795.3 562.0,820.5 564.4,835.5 570.0,843.5 575.0,845.0 582.4,844.0 590.0,852.0 597.0,851.5 600.0,847.9 601.9,834.1 604.3,752.7 607.4,770.1 608.7,774.0 609.7,745.9 611.1,748.8 611.6,805.1 614.5,824.5 616.5,830.3 619.4,823.7 620.4,804.5 622.9,798.7 624.2,804.5 627.2,818.1 631.0,810.3 636.8,796.5 639.8,790.7 641.3,759.7 642.7,753.9 647.5,753.9 649.5,744.2 650.8,712.0 652.0,691.6 653.3,704.2 654.3,688.7 655.7,661.5 656.8,650.5 658.2,669.3 659.2,704.2 660.5,746.9 661.7,785.7 663.0,795.4 665.9,799.4 667.5,801.0 668.9,802.4 670.8,811.1 677.6,826.6 683.4,809.2 686.3,818.9 691.2,838.3 697.0,848.0 702.8,839.1 707.1,821.6 711.5,825.5 716.4,835.2 721.2,841.0 728.0,833.3 731.9,814.8 734.8,777.9 737.7,805.1 741.6,832.1 745.5,841.8 748.4,838.0 749.3,845.7" fill="none" stroke="#222222" stroke-width="0.9" stroke-linejoin="round" opacity="1"/>
<polyline points="160.9,857.5 230.0,857.5 245.0,856.2 256.7,853.0 290.0,854.0 324.5,855.0 332.0,851.0 336.0,834.0 339.0,826.0 339.0,826.8 341.0,800.8 343.0,770.8 345.0,746.8 346.0,734.8 347.0,740.8 348.0,700.8 349.0,640.8 350.0,590.8 351.0,640.8 352.0,700.8 353.0,716.8 354.0,734.8 355.0,760.8 356.0,780.8 357.0,788.8 358.0,786.8 359.0,770.8 360.0,760.8 361.0,740.8 362.4,675.8 363.5,720.8 364.0,760.8 365.0,814.8 367.0,836.8 370.0,846.3 374.5,851.1 391.5,853.3 432.7,856.7 469.0,857.6 500.6,856.7 529.7,857.2 541.8,854.8 546.9,849.4 550.0,840.8 552.3,814.4 554.0,780.8 555.5,700.8 556.4,600.8 556.9,547.8 557.5,600.8 558.3,680.8 559.0,728.3 560.4,795.6 562.0,820.8 564.4,835.8 570.0,843.8 575.0,845.3 582.4,844.3 590.0,846.3 597.0,849.8 600.0,846.2 601.9,834.4 604.3,753.0 607.4,770.4 608.7,774.3 609.7,746.2 611.1,749.1 611.6,805.4 614.5,824.8 616.5,830.6 619.4,817.0 620.4,794.8 622.9,789.0 624.2,794.8 627.2,808.4 631.0,800.6 636.8,792.8 639.8,787.0 641.3,753.0 642.7,747.2 647.5,747.2 649.5,737.5 650.8,712.3 652.0,691.9 653.3,704.5 654.3,689.0 655.7,661.8 656.8,650.8 658.2,669.6 659.2,704.5 660.5,747.2 661.7,786.0 663.0,795.7 665.9,799.4 667.5,801.0 668.9,802.4 670.8,803.4 677.6,818.9 683.4,801.5 686.3,811.2 691.2,830.6 697.0,840.3 702.8,836.4 707.1,818.9 711.5,822.8 716.4,832.5 721.2,838.3 728.0,830.6 731.9,815.1 734.8,778.2 737.7,805.4 741.6,839.4 745.5,849.1 748.4,845.3 749.3,853.0" fill="none" stroke="#ff3030" stroke-width="0.9" stroke-linejoin="round" opacity="1"/>
<polyline points="160.9,857.0 230.0,856.0 245.0,853.5 256.7,849.0 290.0,850.2 324.5,851.5 332.0,847.5 336.0,834.0 339.0,826.0 339.0,826.3 341.0,799.3 343.0,769.3 345.0,745.3 346.0,733.3 347.0,739.3 348.0,699.3 349.0,639.3 350.0,582.3 351.0,639.3 352.0,699.3 353.0,716.3 354.0,734.3 355.0,760.3 356.0,780.3 357.0,788.3 358.0,786.3 359.0,770.3 360.0,760.3 361.0,740.3 362.4,675.3 363.5,720.3 364.0,760.3 365.0,814.3 367.0,836.3 370.0,845.8 374.5,850.6 391.5,852.8 432.7,856.2 469.0,857.1 500.6,856.2 529.7,856.7 541.8,854.3 546.9,848.9 550.0,840.3 552.3,813.9 554.0,780.3 555.5,700.3 556.4,600.3 556.9,547.3 557.5,600.3 558.3,680.3 559.0,727.8 560.4,795.1 562.0,820.3 564.4,835.3 570.0,843.3 575.0,844.8 582.4,843.8 590.0,845.8 597.0,845.3 600.0,841.7 601.9,833.9 604.3,752.5 607.4,769.9 608.7,773.8 609.7,745.7 611.1,748.6 611.6,804.9 614.5,824.3 616.5,830.1 619.4,816.5 620.4,793.3 622.9,787.5 624.2,793.3 627.2,806.9 631.0,799.1 636.8,791.3 639.8,785.5 641.3,752.5 642.7,746.7 647.5,746.7 649.5,737.0 650.8,711.8 652.0,691.4 653.3,704.0 654.3,688.5 655.7,661.3 656.8,650.3 658.2,669.1 659.2,704.0 660.5,746.7 661.7,785.5 663.0,795.2 665.9,799.4 667.5,801.0 668.9,802.4 670.8,802.9 677.6,818.4 683.4,801.0 686.3,810.7 691.2,830.1 697.0,839.8 702.8,835.9 707.1,818.4 711.5,822.3 716.4,832.0 721.2,837.8 728.0,830.1 731.9,814.6 734.8,777.7 737.7,804.9 741.6,833.9 745.5,843.6 748.4,839.8 749.3,847.5" fill="none" stroke="#3a4ee8" stroke-width="0.9" stroke-linejoin="round" opacity="1"/>
<polyline points="160.9,857.0 230.0,856.0 256.7,851.5 324.5,852.7 330.0,852.0 333.0,835.0 334.2,816.4 335.5,822.0 336.5,838.0 339.0,826.0 339.0,826.5 341.0,800.5 343.0,770.5 345.0,746.5 346.0,734.5 347.0,740.5 348.0,700.5 349.0,640.5 350.0,590.5 351.0,640.5 352.0,700.5 353.0,716.5 354.0,734.5 355.0,760.5 356.0,780.5 357.0,788.5 358.0,786.5 359.0,770.5 360.0,760.5 361.0,740.5 362.4,675.5 363.5,720.5 364.0,760.5 365.0,814.5 367.0,836.5 370.0,846.0 374.5,850.8 391.5,853.0 432.7,856.4 469.0,857.3 500.6,856.4 529.7,856.9 541.8,854.5 546.9,849.1 550.0,840.5 552.3,814.1 554.0,780.5 555.5,700.5 556.4,600.5 556.9,547.5 557.5,600.5 558.3,680.5 559.0,728.0 560.4,795.3 562.0,820.5 564.4,835.5 570.0,843.5 575.0,845.0 582.4,844.0 590.0,846.0 597.0,845.5 600.0,841.9 601.9,834.1 604.3,752.7 607.4,770.1 608.7,774.0 609.7,745.9 611.1,748.8 611.6,805.1 614.5,824.5 616.5,830.3 619.4,822.7 620.4,797.5 622.9,791.7 624.2,797.5 627.2,811.1 631.0,803.3 636.8,795.5 639.8,789.7 641.3,758.7 642.7,752.9 647.5,762.9 649.5,753.2 650.8,722.0 652.0,713.6 653.3,726.2 654.3,710.7 655.7,697.5 656.8,686.5 658.2,691.3 659.2,726.2 660.5,756.9 661.7,795.7 663.0,795.4 665.9,799.4 667.5,801.0 668.9,802.4 670.8,808.1 677.6,823.6 683.4,806.2 686.3,815.9 691.2,835.3 697.0,845.0 702.8,836.1 707.1,818.6 711.5,822.5 716.4,832.2 721.2,838.0 728.0,830.3 731.9,814.8 734.8,777.9 737.7,805.1 741.6,834.1 745.5,843.8 748.4,840.0 749.3,847.7" fill="none" stroke="#2aa882" stroke-width="0.9" stroke-linejoin="round" opacity="1"/>
<polyline points="160.9,857.4 230.0,857.0 245.0,855.2 256.7,851.5 290.0,852.1 324.5,852.7 332.0,848.7 336.0,834.0 339.0,826.0 339.0,826.2 341.0,800.2 343.0,770.2 345.0,746.2 346.0,734.2 347.0,740.2 348.0,700.2 349.0,640.2 350.0,590.2 351.0,640.2 352.0,700.2 353.0,716.2 354.0,734.2 355.0,760.2 356.0,780.2 357.0,788.2 358.0,786.2 359.0,770.2 360.0,760.2 361.0,740.2 362.4,675.2 363.5,720.2 364.0,760.2 365.0,814.2 367.0,836.2 370.0,845.7 374.5,850.5 391.5,852.7 432.7,856.1 469.0,857.0 500.6,856.1 529.7,856.6 541.8,854.2 546.9,848.8 550.0,840.2 552.3,813.8 554.0,780.2 555.5,700.2 556.4,571.2 556.9,518.2 557.5,571.2 558.3,680.2 559.0,727.7 560.4,795.0 562.0,820.2 564.4,835.2 570.0,843.2 575.0,844.7 582.4,843.7 590.0,845.7 597.0,845.2 600.0,841.6 601.9,833.8 604.3,752.4 607.4,769.8 608.7,773.7 609.7,745.6 611.1,748.5 611.6,804.8 614.5,824.2 616.5,830.0 619.4,816.4 620.4,790.2 622.9,784.4 624.2,790.2 627.2,803.8 631.0,796.0 636.8,788.2 639.8,782.4 641.3,752.4 642.7,746.6 647.5,746.6 649.5,736.9 650.8,711.7 652.0,691.3 653.3,703.9 654.3,688.4 655.7,661.2 656.8,650.2 658.2,669.0 659.2,703.9 660.5,746.6 661.7,785.4 663.0,795.1 665.9,799.4 667.5,801.0 668.9,802.4 670.8,802.8 677.6,818.3 683.4,800.9 686.3,810.6 691.2,830.0 697.0,839.7 702.8,835.8 707.1,818.3 711.5,822.2 716.4,831.9 721.2,837.7 728.0,830.0 731.9,814.5 734.8,777.6 737.7,804.8 741.6,833.8 745.5,843.5 748.4,839.7 749.3,847.4" fill="none" stroke="#b050f5" stroke-width="0.9" stroke-linejoin="round" opacity="1"/>
<polyline points="160.9,856.9 230.0,855.5 245.0,850.9 256.7,844.2 290.0,846.0 324.5,847.9 332.0,843.9 336.0,834.0 339.0,826.0 339.0,825.0 341.0,799.0 343.0,769.0 345.0,745.0 346.0,733.0 347.0,739.0 348.0,699.0 349.0,639.0 350.0,589.0 351.0,639.0 352.0,699.0 353.0,715.0 354.0,733.0 355.0,759.0 356.0,779.0 357.0,787.0 358.0,785.0 359.0,769.0 360.0,759.0 361.0,739.0 362.4,674.0 363.5,719.0 364.0,759.0 365.0,813.0 367.0,835.0 370.0,844.5 374.5,849.3 391.5,851.5 432.7,854.9 469.0,855.8 500.6,854.9 529.7,855.4 541.8,853.0 546.9,847.6 550.0,839.0 552.3,812.6 554.0,779.0 555.5,699.0 556.4,599.0 556.9,546.0 557.5,599.0 558.3,679.0 559.0,726.5 560.4,793.8 562.0,819.0 564.4,834.0 566.0,844.0 567.5,843.9 569.0,843.8 570.5,843.5 572.0,843.0 573.5,841.9 575.0,840.3 576.5,838.1 578.0,835.5 579.5,832.9 581.0,831.1 582.5,830.5 584.0,831.3 585.5,833.2 587.0,835.8 588.5,838.4 590.0,840.6 591.5,842.1 593.0,844.6 594.5,845.1 596.0,845.3 597.5,845.4 599.0,845.5 600.0,840.4 601.9,832.6 604.3,751.2 607.4,768.6 608.7,772.5 609.7,744.4 611.1,747.3 611.6,803.6 614.5,823.0 616.5,828.8 619.4,815.2 620.4,790.0 622.9,784.2 624.2,790.0 627.2,803.6 631.0,795.8 636.8,788.0 639.8,782.2 641.3,751.2 642.7,745.4 647.5,745.4 649.5,735.7 650.8,710.5 652.0,690.1 653.3,702.7 654.3,687.2 655.7,660.0 656.8,649.0 658.2,667.8 659.2,702.7 660.5,745.4 661.7,784.2 663.0,793.9 665.9,762.8 667.5,759.9 668.9,790.0 670.8,801.6 677.6,817.1 683.4,799.7 686.3,809.4 691.2,828.8 697.0,838.5 702.8,834.6 707.1,817.1 711.5,821.0 716.4,830.7 721.2,836.5 728.0,828.8 731.9,813.3 734.8,776.4 737.7,803.6 741.6,832.6 745.5,842.3 748.4,838.5 749.3,846.2" fill="none" stroke="#9aa030" stroke-width="0.9" stroke-linejoin="round" opacity="1"/>
<polyline points="728.0,829.0 731.9,814.3 733.5,780.0 735.2,739.6 736.5,755.0 738.7,769.6 743.5,804.6 748.4,824.0 749.3,835.0" fill="none" stroke="#2aa882" stroke-width="1.0" stroke-linejoin="round" opacity="1"/>
<polyline points="728.0,831.0 731.9,816.0 733.5,782.0 735.2,741.6 736.5,757.0 738.7,772.0 743.5,807.0 748.4,826.0" fill="none" stroke="#333333" stroke-width="0.8" stroke-linejoin="round" opacity="1"/>
<rect x="72.2" y="957.0" width="751.6999999999999" height="430.9000000000001" fill="none" stroke="#000" stroke-width="1.9"/>
<g transform="translate(66.8,1369.3) scale(1,1.03)"><text x="0" y="0" font-size="18.3" text-anchor="end" font-weight="normal"  stroke="#000" stroke-width="0.9">0,0</text></g>
<g transform="translate(66.8,1321.4) scale(1,1.03)"><text x="0" y="0" font-size="18.3" text-anchor="end" font-weight="normal"  stroke="#000" stroke-width="0.9">0,2</text></g>
<g transform="translate(66.8,1273.5) scale(1,1.03)"><text x="0" y="0" font-size="18.3" text-anchor="end" font-weight="normal"  stroke="#000" stroke-width="0.9">0,4</text></g>
<g transform="translate(66.8,1225.6) scale(1,1.03)"><text x="0" y="0" font-size="18.3" text-anchor="end" font-weight="normal"  stroke="#000" stroke-width="0.9">0,6</text></g>
<g transform="translate(66.8,1177.7) scale(1,1.03)"><text x="0" y="0" font-size="18.3" text-anchor="end" font-weight="normal"  stroke="#000" stroke-width="0.9">0,8</text></g>
<g transform="translate(41.36,1129.8) scale(1,1.03)"><path transform="translate(0.00,0) scale(0.00894,-0.00894)" d="M515,0 L515,1237 L197,1010 L197,1180 L530,1409 L696,1409 L696,0 Z" fill="#000" stroke="#000" stroke-width="100.7" stroke-linejoin="miter"/><text x="10.18" y="0" font-size="18.3"  stroke="#000" stroke-width="0.9" style="white-space:pre">,0</text></g>
<g transform="translate(41.36,1081.9) scale(1,1.03)"><path transform="translate(0.00,0) scale(0.00894,-0.00894)" d="M515,0 L515,1237 L197,1010 L197,1180 L530,1409 L696,1409 L696,0 Z" fill="#000" stroke="#000" stroke-width="100.7" stroke-linejoin="miter"/><text x="10.18" y="0" font-size="18.3"  stroke="#000" stroke-width="0.9" style="white-space:pre">,2</text></g>
<g transform="translate(41.36,1034.0) scale(1,1.03)"><path transform="translate(0.00,0) scale(0.00894,-0.00894)" d="M515,0 L515,1237 L197,1010 L197,1180 L530,1409 L696,1409 L696,0 Z" fill="#000" stroke="#000" stroke-width="100.7" stroke-linejoin="miter"/><text x="10.18" y="0" font-size="18.3"  stroke="#000" stroke-width="0.9" style="white-space:pre">,4</text></g>
<g transform="translate(41.36,986.1) scale(1,1.03)"><path transform="translate(0.00,0) scale(0.00894,-0.00894)" d="M515,0 L515,1237 L197,1010 L197,1180 L530,1409 L696,1409 L696,0 Z" fill="#000" stroke="#000" stroke-width="100.7" stroke-linejoin="miter"/><text x="10.18" y="0" font-size="18.3"  stroke="#000" stroke-width="0.9" style="white-space:pre">,6</text></g>
<g transform="translate(71.5,1407.2) scale(1,1.02)"><text x="0" y="0" font-size="18.8" text-anchor="middle" font-weight="normal"  stroke="#000" stroke-width="0.9">4500</text></g>
<g transform="translate(159.9,1407.2) scale(1,1.02)"><text x="0" y="0" font-size="18.8" text-anchor="middle" font-weight="normal"  stroke="#000" stroke-width="0.9">4000</text></g>
<g transform="translate(248.3,1407.2) scale(1,1.02)"><text x="0" y="0" font-size="18.8" text-anchor="middle" font-weight="normal"  stroke="#000" stroke-width="0.9">3500</text></g>
<g transform="translate(336.7,1407.2) scale(1,1.02)"><text x="0" y="0" font-size="18.8" text-anchor="middle" font-weight="normal"  stroke="#000" stroke-width="0.9">3000</text></g>
<g transform="translate(425.1,1407.2) scale(1,1.02)"><text x="0" y="0" font-size="18.8" text-anchor="middle" font-weight="normal"  stroke="#000" stroke-width="0.9">2500</text></g>
<g transform="translate(513.5,1407.2) scale(1,1.02)"><text x="0" y="0" font-size="18.8" text-anchor="middle" font-weight="normal"  stroke="#000" stroke-width="0.9">2000</text></g>
<g transform="translate(580.99,1407.2) scale(1,1.02)"><path transform="translate(0.00,0) scale(0.00918,-0.00918)" d="M515,0 L515,1237 L197,1010 L197,1180 L530,1409 L696,1409 L696,0 Z" fill="#000" stroke="#000" stroke-width="98.0" stroke-linejoin="miter"/><text x="10.46" y="0" font-size="18.8"  stroke="#000" stroke-width="0.9" style="white-space:pre">500</text></g>
<g transform="translate(669.39,1407.2) scale(1,1.02)"><path transform="translate(0.00,0) scale(0.00918,-0.00918)" d="M515,0 L515,1237 L197,1010 L197,1180 L530,1409 L696,1409 L696,0 Z" fill="#000" stroke="#000" stroke-width="98.0" stroke-linejoin="miter"/><text x="10.46" y="0" font-size="18.8"  stroke="#000" stroke-width="0.9" style="white-space:pre">000</text></g>
<g transform="translate(778.7,1407.2) scale(1,1.02)"><text x="0" y="0" font-size="18.8" text-anchor="middle" font-weight="normal"  stroke="#000" stroke-width="0.9">500</text></g>
<g transform="translate(17.4,1240.2) rotate(-90)"><text x="0" y="0" font-size="24.7" stroke="#000" stroke-width="0.8">Absorbance</text></g>
<g transform="translate(335.8,1446.0) scale(1,1.05)"><text x="0" y="0" font-size="23.5" text-anchor="start" font-weight="normal"  stroke="#000" stroke-width="0.85">Wavenumbers (cm</text></g>
<g transform="translate(533.50,1434.9) scale(1,1.05)"><text x="0.00" y="0" font-size="21.0"  stroke="#000" stroke-width="0.8" style="white-space:pre">-</text><path transform="translate(6.99,0) scale(0.01025,-0.01025)" d="M515,0 L515,1237 L197,1010 L197,1180 L530,1409 L696,1409 L696,0 Z" fill="#000" stroke="#000" stroke-width="78.0" stroke-linejoin="miter"/></g>
<g transform="translate(553.4,1446.0) scale(1,1.05)"><text x="0" y="0" font-size="23.5" text-anchor="start" font-weight="normal"  stroke="#000" stroke-width="0.85">)</text></g>
<g transform="translate(99.2,1005.0) scale(1,1.08)"><text x="0" y="0" font-size="22" text-anchor="start" font-weight="bold" >(C)</text></g>
<line x1="648.5" y1="976.8" x2="696" y2="976.8" stroke="#777777" stroke-width="1.5"/>
<g transform="translate(702.5,983.6) scale(1,1.02)"><text x="0" y="0" font-size="20.9" text-anchor="start" font-weight="normal"  stroke="#000" stroke-width="0.55">CHBHBHT</text></g>
<line x1="648.5" y1="1002.6" x2="696" y2="1002.6" stroke="#ff4040" stroke-width="1.5"/>
<g transform="translate(702.5,1009.4) scale(1,1.02)"><text x="0" y="0" font-size="20.9" text-anchor="start" font-weight="normal"  stroke="#000" stroke-width="0.55">CHBH</text></g>
<line x1="648.5" y1="1028.2" x2="696" y2="1028.2" stroke="#4060f0" stroke-width="1.5"/>
<g transform="translate(702.5,1035.0) scale(1,1.02)"><text x="0" y="0" font-size="20.9" text-anchor="start" font-weight="normal"  stroke="#000" stroke-width="0.55">CHBL</text></g>
<line x1="648.5" y1="1053.7" x2="696" y2="1053.7" stroke="#80cdb5" stroke-width="1.5"/>
<g transform="translate(702.5,1060.5) scale(1,1.02)"><text x="0" y="0" font-size="20.9" text-anchor="start" font-weight="normal"  stroke="#000" stroke-width="0.55">CHBLBHT</text></g>
<line x1="648.5" y1="1079.5" x2="696" y2="1079.5" stroke="#c060f5" stroke-width="1.5"/>
<g transform="translate(702.5,1086.3) scale(1,1.02)"><text x="0" y="0" font-size="20.9" text-anchor="start" font-weight="normal"  stroke="#000" stroke-width="0.55">CHBBHT</text></g>
<line x1="648.5" y1="1105.3" x2="696" y2="1105.3" stroke="#9aa838" stroke-width="1.5"/>
<g transform="translate(702.5,1112.1) scale(1,1.02)"><text x="0" y="0" font-size="20.9" text-anchor="start" font-weight="normal"  stroke="#000" stroke-width="0.55">CHB</text></g>
<g transform="translate(227.8,1238.8) scale(1,1.02)"><text x="0" y="0" font-size="16.2" text-anchor="start" font-weight="normal"  stroke="#000" stroke-width="0.6">3200-3500</text></g>
<line x1="267.6" y1="1247.3" x2="267.6" y2="1286.5" stroke="#111" stroke-width="1.1"/>
<polygon points="267.6,1297.0 264.8,1286.5 270.4,1286.5" fill="#111"/>
<g transform="translate(292.3,1297.7) scale(1,1.02)"><text x="0" y="0" font-size="17.4" text-anchor="start" font-weight="normal"  stroke="#000" stroke-width="0.8">3000</text></g>
<line x1="319.7" y1="1303.0" x2="327.2" y2="1314.4" stroke="#111" stroke-width="1.1"/>
<polygon points="333.0,1323.2 324.9,1316.0 329.6,1312.9" fill="#111"/>
<g transform="translate(563.80,1296.2) scale(1,1.03)"><path transform="translate(0.00,0) scale(0.00767,-0.00767)" d="M515,0 L515,1237 L197,1010 L197,1180 L530,1409 L696,1409 L696,0 Z" fill="#000" stroke="#000" stroke-width="104.4" stroke-linejoin="miter"/><text x="8.73" y="0" font-size="15.7"  stroke="#000" stroke-width="0.8" style="white-space:pre">650</text></g>
<line x1="576.5" y1="1300.2" x2="576.5" y2="1320.6" stroke="#111" stroke-width="1.1"/>
<polygon points="576.5,1331.1 573.7,1320.6 579.3,1320.6" fill="#111"/>
<polyline points="160.2,1363.5 215.0,1363.5 235.0,1361.8 255.5,1359.0 290.0,1360.8 319.7,1362.5 326.0,1361.0 330.2,1346.7 330.2,1347.5 334.0,1337.3 335.8,1324.6 337.9,1329.7 339.9,1316.9 341.7,1291.4 343.5,1258.2 345.5,1227.6 347.6,1202.1 349.3,1112.8 351.1,1020.8 352.7,1087.3 353.7,1189.4 355.7,1232.8 358.3,1276.1 360.8,1245.5 362.1,1214.9 363.4,1135.8 364.6,1214.8 365.9,1304.2 368.0,1334.8 371.0,1347.5 376.1,1352.6 396.5,1355.2 420.0,1359.0 460.0,1360.8 500.0,1361.3 530.0,1361.5 548.8,1358.8 554.2,1349.8 556.9,1323.8 558.5,1200.8 560.4,1000.8 561.2,1150.8 561.7,1248.7 563.6,1259.4 564.9,1313.1 567.6,1334.6 570.3,1345.4 575.7,1352.1 587.7,1362.8 597.2,1356.1 605.2,1345.4 606.6,1321.2 608.4,1237.9 610.6,1243.3 611.9,1270.1 613.8,1237.9 615.4,1237.9 616.5,1313.1 618.6,1329.2 621.3,1334.6 623.5,1313.1 625.4,1290.3 628.0,1297.0 632.1,1310.4 637.4,1299.7 640.0,1296.8 642.9,1283.7 644.8,1268.2 646.8,1241.0 648.7,1244.9 650.7,1254.6 652.6,1246.9 654.5,1213.9 656.5,1186.7 658.4,1206.1 659.4,1177.0 661.3,1136.3 662.9,1149.9 663.7,1198.4 664.8,1217.8 665.6,1241.0 667.2,1279.8 668.7,1291.5 670.6,1268.2 672.0,1281.8 674.5,1285.7 676.9,1307.0 678.8,1316.7 682.7,1318.6 685.6,1308.9 688.5,1299.2 691.4,1307.0 693.3,1310.8 697.2,1326.4 702.1,1339.5 705.9,1341.5 709.8,1337.6 712.7,1322.5 717.6,1322.5 721.5,1336.1 726.3,1341.9 731.2,1332.2 736.0,1310.8 738.9,1272.1 740.5,1237.2 742.8,1281.8 746.7,1305.0 750.6,1330.3 752.1,1338.0 754.4,1324.4" fill="none" stroke="#333333" stroke-width="0.9" stroke-linejoin="round" opacity="1"/>
<polyline points="160.2,1362.4 215.0,1362.4 235.0,1360.5 255.5,1357.6 290.0,1359.4 319.7,1361.2 326.0,1359.7 330.2,1346.7 330.2,1347.2 334.0,1337.0 335.8,1324.3 337.9,1329.4 339.9,1316.6 341.7,1291.1 343.5,1257.9 345.5,1227.3 347.6,1201.8 349.3,1112.5 351.1,1020.5 352.7,1087.0 353.7,1189.1 355.7,1232.5 358.3,1275.8 360.8,1245.2 362.1,1214.6 363.4,1135.5 364.6,1214.5 365.9,1303.9 368.0,1334.5 371.0,1347.2 376.1,1352.3 396.5,1354.9 420.0,1358.7 460.0,1360.5 500.0,1361.0 530.0,1361.2 548.8,1358.5 554.2,1349.5 556.9,1323.5 558.5,1200.5 560.4,1000.5 561.2,1150.5 561.7,1248.4 563.6,1259.1 564.9,1312.8 567.6,1334.3 570.3,1345.1 575.7,1351.8 587.7,1362.5 597.2,1355.8 605.2,1345.1 606.6,1320.9 608.4,1237.6 610.6,1243.0 611.9,1269.8 613.8,1237.6 615.4,1237.6 616.5,1312.8 618.6,1328.9 621.3,1334.3 623.5,1312.8 625.4,1290.0 628.0,1296.7 632.1,1310.1 637.4,1299.4 640.0,1296.5 642.9,1283.4 644.8,1267.9 646.8,1240.7 648.7,1244.6 650.7,1254.3 652.6,1246.6 654.5,1213.6 656.5,1186.4 658.4,1205.8 659.4,1176.7 661.3,1136.0 662.9,1149.6 663.7,1198.1 664.8,1217.5 665.6,1240.7 667.2,1279.5 668.7,1291.2 670.6,1267.9 672.0,1281.5 674.5,1285.4 676.9,1306.7 678.8,1316.4 682.7,1318.3 685.6,1308.6 688.5,1298.9 691.4,1306.7 693.3,1310.5 697.2,1326.1 702.1,1337.7 705.9,1339.7 709.8,1335.8 712.7,1322.2 717.6,1322.2 721.5,1335.8 726.3,1341.6 731.2,1331.9 736.0,1310.5 738.9,1271.8 740.5,1239.9 742.8,1284.5 746.7,1307.7 750.6,1333.0 752.1,1340.7 754.4,1324.1" fill="none" stroke="#ff3030" stroke-width="0.9" stroke-linejoin="round" opacity="1"/>
<polyline points="160.2,1356.4 215.0,1356.4 235.0,1354.5 255.5,1351.5 290.0,1354.5 319.7,1357.6 326.0,1356.1 330.2,1346.7 330.2,1343.2 334.0,1333.0 335.8,1323.8 337.9,1328.9 339.9,1316.1 341.7,1290.6 343.5,1257.4 345.5,1226.8 347.6,1201.3 349.3,1112.0 351.1,1020.0 352.7,1086.5 353.7,1188.6 355.7,1232.0 358.3,1275.3 360.8,1244.7 362.1,1214.1 363.4,1135.0 364.6,1214.0 365.9,1303.4 368.0,1334.0 371.0,1346.7 376.1,1348.3 396.5,1350.9 420.0,1354.7 460.0,1356.5 500.0,1357.0 530.0,1357.2 548.8,1354.5 554.2,1345.5 556.9,1321.5 558.5,1198.5 560.4,998.5 561.2,1148.5 561.7,1246.4 563.6,1255.1 564.9,1308.8 567.6,1330.3 570.3,1341.1 575.7,1347.8 587.7,1358.5 597.2,1351.8 605.2,1341.1 606.6,1316.9 608.4,1233.6 610.6,1239.0 611.9,1265.8 613.8,1233.6 615.4,1233.6 616.5,1308.8 618.6,1324.9 621.3,1330.3 623.5,1308.8 625.4,1286.0 628.0,1292.7 632.1,1306.1 637.4,1295.4 640.0,1292.5 642.9,1279.4 644.8,1263.9 646.8,1236.7 648.7,1240.6 650.7,1250.3 652.6,1242.6 654.5,1209.6 656.5,1182.4 658.4,1201.8 659.4,1172.7 661.3,1132.0 662.9,1145.6 663.7,1194.1 664.8,1213.5 665.6,1236.7 667.2,1275.5 668.7,1287.2 670.6,1263.9 672.0,1277.5 674.5,1281.4 676.9,1302.7 678.8,1312.4 682.7,1313.3 685.6,1303.6 688.5,1293.9 691.4,1301.7 693.3,1305.5 697.2,1321.1 702.1,1332.7 705.9,1334.7 709.8,1330.8 712.7,1317.2 717.6,1317.2 721.5,1330.8 726.3,1336.6 731.2,1326.9 736.0,1305.5 738.9,1266.8 740.5,1231.9 742.8,1276.5 746.7,1299.7 750.6,1325.0 752.1,1332.7 754.4,1319.1" fill="none" stroke="#2aa882" stroke-width="0.9" stroke-linejoin="round" opacity="1"/>
<polyline points="160.2,1363.5 215.0,1363.5 235.0,1361.8 255.5,1359.0 290.0,1360.8 319.7,1362.5 326.0,1361.0 330.2,1346.7 330.2,1347.9 334.0,1337.7 335.8,1325.0 337.9,1330.1 339.9,1317.3 341.7,1291.8 343.5,1258.6 345.5,1228.0 347.6,1202.5 349.3,1113.2 351.1,1021.2 352.7,1087.7 353.7,1189.8 355.7,1233.2 358.3,1286.5 360.8,1245.9 362.1,1215.3 363.4,1136.2 364.6,1215.2 365.9,1304.6 368.0,1335.2 371.0,1347.9 376.1,1353.0 396.5,1355.6 420.0,1359.4 460.0,1361.2 500.0,1361.7 530.0,1361.9 548.8,1359.2 554.2,1350.2 556.9,1324.2 558.5,1201.2 560.4,1001.2 561.2,1151.2 561.7,1249.1 563.6,1259.8 564.9,1313.5 567.6,1335.0 570.3,1345.8 575.7,1352.5 587.7,1363.2 597.2,1356.5 605.2,1345.8 606.6,1321.6 608.4,1238.3 610.6,1243.7 611.9,1270.5 613.8,1238.3 615.4,1238.3 616.5,1313.5 618.6,1329.6 621.3,1335.0 623.5,1313.5 625.4,1290.7 628.0,1297.4 632.1,1310.8 637.4,1300.1 640.0,1297.2 642.9,1284.1 644.8,1268.6 646.8,1241.4 648.7,1245.3 650.7,1255.0 652.6,1247.3 654.5,1214.3 656.5,1187.1 658.4,1206.5 659.4,1177.4 661.3,1136.7 662.9,1150.3 663.7,1198.8 664.8,1218.2 665.6,1241.4 667.2,1280.2 668.7,1291.9 670.6,1268.6 672.0,1282.2 674.5,1286.1 676.9,1307.4 678.8,1317.1 682.7,1319.0 685.6,1309.3 688.5,1299.6 691.4,1313.4 693.3,1317.2 697.2,1332.8 702.1,1344.4 705.9,1346.4 709.8,1342.5 712.7,1322.9 717.6,1322.9 721.5,1336.5 726.3,1342.3 731.2,1332.6 736.0,1311.2 738.9,1272.5 740.5,1237.6 742.8,1282.2 746.7,1305.4 750.6,1330.7 752.1,1338.4 754.4,1324.8" fill="none" stroke="#b050f5" stroke-width="0.9" stroke-linejoin="round" opacity="1"/>
<path d="M160.2,1360.0 C165.2,1359.9 181.6,1359.7 190.0,1359.5 C198.4,1359.3 206.6,1359.2 210.6,1358.8 C214.6,1358.4 212.8,1358.0 214.0,1357.0 C215.2,1356.0 216.4,1355.0 217.9,1352.7 C219.4,1350.4 221.0,1346.6 223.0,1343.0 C225.0,1339.4 227.8,1334.5 230.0,1330.9 C232.2,1327.3 234.0,1324.3 236.0,1321.5 C238.0,1318.7 240.1,1316.1 242.1,1313.9 C244.1,1311.7 246.0,1309.8 248.0,1308.2 C250.0,1306.6 252.2,1305.3 254.2,1304.2 C256.2,1303.1 258.0,1302.2 260.0,1301.6 C262.0,1301.0 264.4,1300.5 266.4,1300.6 C268.4,1300.7 270.0,1301.2 272.0,1302.0 C274.0,1302.8 276.4,1304.1 278.5,1305.5 C280.6,1306.9 282.5,1308.7 284.5,1310.5 C286.5,1312.3 288.6,1314.2 290.6,1316.4 C292.6,1318.6 294.5,1321.1 296.5,1323.5 C298.5,1325.9 300.7,1328.6 302.7,1330.9 C304.7,1333.2 306.5,1335.5 308.5,1337.5 C310.5,1339.5 313.0,1341.5 314.8,1343.0 C316.6,1344.5 317.9,1345.5 319.5,1346.3 C321.1,1347.1 323.2,1347.7 324.5,1347.9 C325.8,1348.2 326.2,1348.0 327.0,1347.8 C327.8,1347.6 328.6,1347.4 329.4,1346.7 C330.1,1346.0 330.9,1344.9 331.5,1343.5 C332.1,1342.1 332.6,1339.4 333.0,1338.2 C333.4,1337.0 333.5,1338.9 334.0,1336.5 C334.5,1334.1 335.2,1325.1 335.8,1323.8 C336.4,1322.5 337.2,1330.2 337.9,1328.9 C338.6,1327.6 339.3,1322.5 339.9,1316.1 C340.5,1309.7 341.1,1300.4 341.7,1290.6 C342.3,1280.8 342.9,1268.0 343.5,1257.4 C344.1,1246.8 344.8,1236.2 345.5,1226.8 C346.2,1217.4 347.0,1220.4 347.6,1201.3 C348.2,1182.2 348.7,1142.2 349.3,1112.0 C349.9,1081.8 350.5,1024.2 351.1,1020.0 C351.7,1015.8 352.3,1058.4 352.7,1086.5 C353.1,1114.6 353.2,1164.3 353.7,1188.6 C354.2,1212.8 354.9,1217.5 355.7,1232.0 C356.5,1246.5 357.4,1273.2 358.3,1275.3 C359.2,1277.4 360.2,1254.9 360.8,1244.7 C361.4,1234.5 361.7,1232.4 362.1,1214.1 C362.5,1195.8 363.0,1135.0 363.4,1135.0 C363.8,1135.0 364.2,1185.9 364.6,1214.0 C365.0,1242.1 365.3,1283.4 365.9,1303.4 C366.5,1323.4 367.1,1326.8 368.0,1334.0 C368.9,1341.2 369.6,1343.7 371.0,1346.7 C372.4,1349.7 371.9,1350.5 376.1,1351.8 C380.4,1353.1 389.2,1353.3 396.5,1354.4 C403.8,1355.5 409.4,1357.3 420.0,1358.2 C430.6,1359.1 446.7,1359.6 460.0,1360.0 C473.3,1360.4 488.3,1360.4 500.0,1360.5 C511.7,1360.6 521.9,1361.1 530.0,1360.7 C538.1,1360.3 544.8,1360.0 548.8,1358.0 C552.8,1356.0 552.9,1354.8 554.2,1349.0 C555.6,1343.2 556.2,1347.8 556.9,1323.0 C557.6,1298.2 557.9,1253.8 558.5,1200.0 C559.1,1146.2 559.9,1008.3 560.4,1000.0 C560.9,991.7 561.0,1108.7 561.2,1150.0 C561.4,1191.3 561.3,1229.8 561.7,1247.9 C562.1,1266.0 563.1,1247.9 563.6,1258.6 C564.1,1269.3 564.2,1299.8 564.9,1312.3 C565.6,1324.8 566.7,1329.8 567.6,1333.8 C568.5,1337.8 569.5,1335.8 570.3,1336.5 C571.1,1337.2 571.6,1337.8 572.5,1338.0 C573.4,1338.2 574.8,1338.0 575.7,1337.8 C576.6,1337.5 577.2,1336.0 577.8,1336.5 C578.4,1337.0 579.0,1339.2 579.5,1341.0 C580.0,1342.8 580.3,1345.0 581.0,1347.2 C581.7,1349.4 582.9,1352.2 583.7,1354.0 C584.5,1355.8 585.3,1356.7 586.0,1358.0 C586.7,1359.3 585.8,1362.5 587.7,1362.0 C589.6,1361.5 594.3,1358.2 597.2,1355.3 C600.1,1352.4 603.6,1350.4 605.2,1344.6 C606.8,1338.8 606.1,1338.3 606.6,1320.4 C607.1,1302.5 607.7,1250.1 608.4,1237.1 C609.1,1224.1 610.0,1237.1 610.6,1242.5 C611.2,1247.9 611.4,1270.2 611.9,1269.3 C612.4,1268.4 613.2,1242.5 613.8,1237.1 C614.4,1231.7 614.9,1224.6 615.4,1237.1 C615.9,1249.6 616.0,1297.1 616.5,1312.3 C617.0,1327.5 617.8,1324.8 618.6,1328.4 C619.4,1332.0 620.5,1336.5 621.3,1333.8 C622.1,1331.1 622.8,1319.7 623.5,1312.3 C624.2,1304.9 624.6,1292.2 625.4,1289.5 C626.1,1286.8 626.9,1292.9 628.0,1296.2 C629.1,1299.5 630.5,1309.1 632.1,1309.6 C633.7,1310.0 636.1,1301.2 637.4,1298.9 C638.7,1296.6 639.1,1298.7 640.0,1296.0 C640.9,1293.3 642.1,1287.7 642.9,1282.9 C643.7,1278.1 644.1,1274.5 644.8,1267.4 C645.4,1260.3 646.1,1244.1 646.8,1240.2 C647.4,1236.3 648.1,1241.8 648.7,1244.1 C649.4,1246.4 650.1,1253.5 650.7,1253.8 C651.4,1254.1 652.0,1252.9 652.6,1246.1 C653.2,1239.3 653.9,1223.1 654.5,1213.1 C655.1,1203.1 655.9,1187.2 656.5,1185.9 C657.1,1184.6 657.9,1206.9 658.4,1205.3 C658.9,1203.7 658.9,1187.8 659.4,1176.2 C659.9,1164.6 660.7,1140.0 661.3,1135.5 C661.9,1131.0 662.5,1138.8 662.9,1149.1 C663.3,1159.4 663.4,1186.3 663.7,1197.6 C664.0,1208.9 664.5,1209.9 664.8,1217.0 C665.1,1224.1 665.2,1229.9 665.6,1240.2 C666.0,1250.5 666.7,1270.6 667.2,1279.0 C667.7,1287.4 668.1,1292.6 668.7,1290.7 C669.3,1288.8 670.1,1269.0 670.6,1267.4 C671.1,1265.8 671.4,1278.1 672.0,1281.0 C672.6,1283.9 673.7,1280.7 674.5,1284.9 C675.3,1289.1 676.2,1301.0 676.9,1306.2 C677.6,1311.4 677.8,1314.0 678.8,1315.9 C679.8,1317.8 681.6,1319.1 682.7,1317.8 C683.8,1316.5 684.6,1311.3 685.6,1308.1 C686.6,1304.9 687.5,1298.7 688.5,1298.4 C689.5,1298.1 690.6,1304.3 691.4,1306.2 C692.2,1308.1 692.3,1306.8 693.3,1310.0 C694.3,1313.2 695.7,1321.1 697.2,1325.6 C698.7,1330.1 700.7,1334.9 702.1,1337.2 C703.5,1339.5 703.2,1343.4 705.9,1339.2 C708.6,1335.0 715.6,1314.9 718.5,1312.0 C721.4,1309.1 722.1,1320.1 723.4,1321.7 C724.7,1323.3 725.0,1323.0 726.3,1321.7 C727.6,1320.4 729.8,1317.8 731.2,1313.9 C732.7,1310.0 733.9,1306.5 735.0,1298.4 C736.1,1290.3 737.0,1280.5 737.9,1265.5 C738.8,1250.5 739.7,1213.0 740.5,1208.2 C741.3,1203.4 741.9,1227.8 742.8,1236.4 C743.7,1245.0 744.7,1252.2 745.7,1259.6 C746.7,1267.0 747.5,1274.0 748.6,1281.0 C749.7,1288.0 751.1,1298.5 752.1,1301.3 C753.1,1304.0 754.3,1298.1 754.8,1297.5" fill="none" stroke="#3a5af0" stroke-width="0.9" stroke-linejoin="round"/>
<polyline points="160.2,1361.2 215.0,1361.2 235.0,1358.1 255.5,1353.9 290.0,1355.8 319.7,1357.6 326.0,1356.1 330.2,1346.7 330.2,1346.7 334.0,1336.5 335.8,1323.8 337.9,1328.9 339.9,1316.1 341.7,1290.6 343.5,1257.4 345.5,1226.8 347.6,1201.3 349.3,1112.0 351.1,1020.0 352.7,1086.5 353.7,1188.6 355.7,1232.0 358.3,1275.3 360.8,1244.7 362.1,1214.1 363.4,1135.0 364.6,1214.0 365.9,1303.4 368.0,1334.0 371.0,1346.7 376.1,1351.8 396.5,1354.4 420.0,1358.2 460.0,1360.0 500.0,1360.5 530.0,1360.7 548.8,1358.0 554.2,1349.0 556.9,1323.0 558.5,1200.0 560.4,1000.0 561.2,1150.0 561.7,1247.9 563.6,1258.6 564.9,1312.3 567.6,1333.8 570.3,1344.6 575.7,1351.3 587.7,1362.0 597.2,1355.3 605.2,1344.6 606.6,1320.4 608.4,1237.1 610.6,1242.5 611.9,1269.3 613.8,1237.1 615.4,1237.1 616.5,1312.3 618.6,1328.4 621.3,1333.8 623.5,1312.3 625.4,1289.5 628.0,1296.2 632.1,1309.6 637.4,1298.9 640.0,1296.0 642.9,1282.9 644.8,1267.4 646.8,1240.2 648.7,1244.1 650.7,1253.8 652.6,1246.1 654.5,1213.1 656.5,1185.9 658.4,1205.3 659.4,1176.2 661.3,1135.5 662.9,1149.1 663.7,1197.6 664.8,1217.0 665.6,1240.2 667.2,1279.0 668.7,1290.7 670.6,1267.4 672.0,1281.0 674.5,1284.9 676.9,1306.2 678.8,1315.9 682.7,1317.8 685.6,1308.1 688.5,1298.4 691.4,1306.2 693.3,1310.0 697.2,1325.6 702.1,1337.2 705.9,1339.2 709.8,1335.3 712.7,1321.7 717.6,1321.7 721.5,1335.3 726.3,1341.1 731.2,1331.4 736.0,1310.0 738.9,1271.3 740.5,1236.4 742.8,1281.0 746.7,1304.2 750.6,1329.5 752.1,1337.2 754.4,1323.6" fill="none" stroke="#8a9a2a" stroke-width="1.15" stroke-linejoin="round" opacity="1"/>
</svg>
</body></html>
